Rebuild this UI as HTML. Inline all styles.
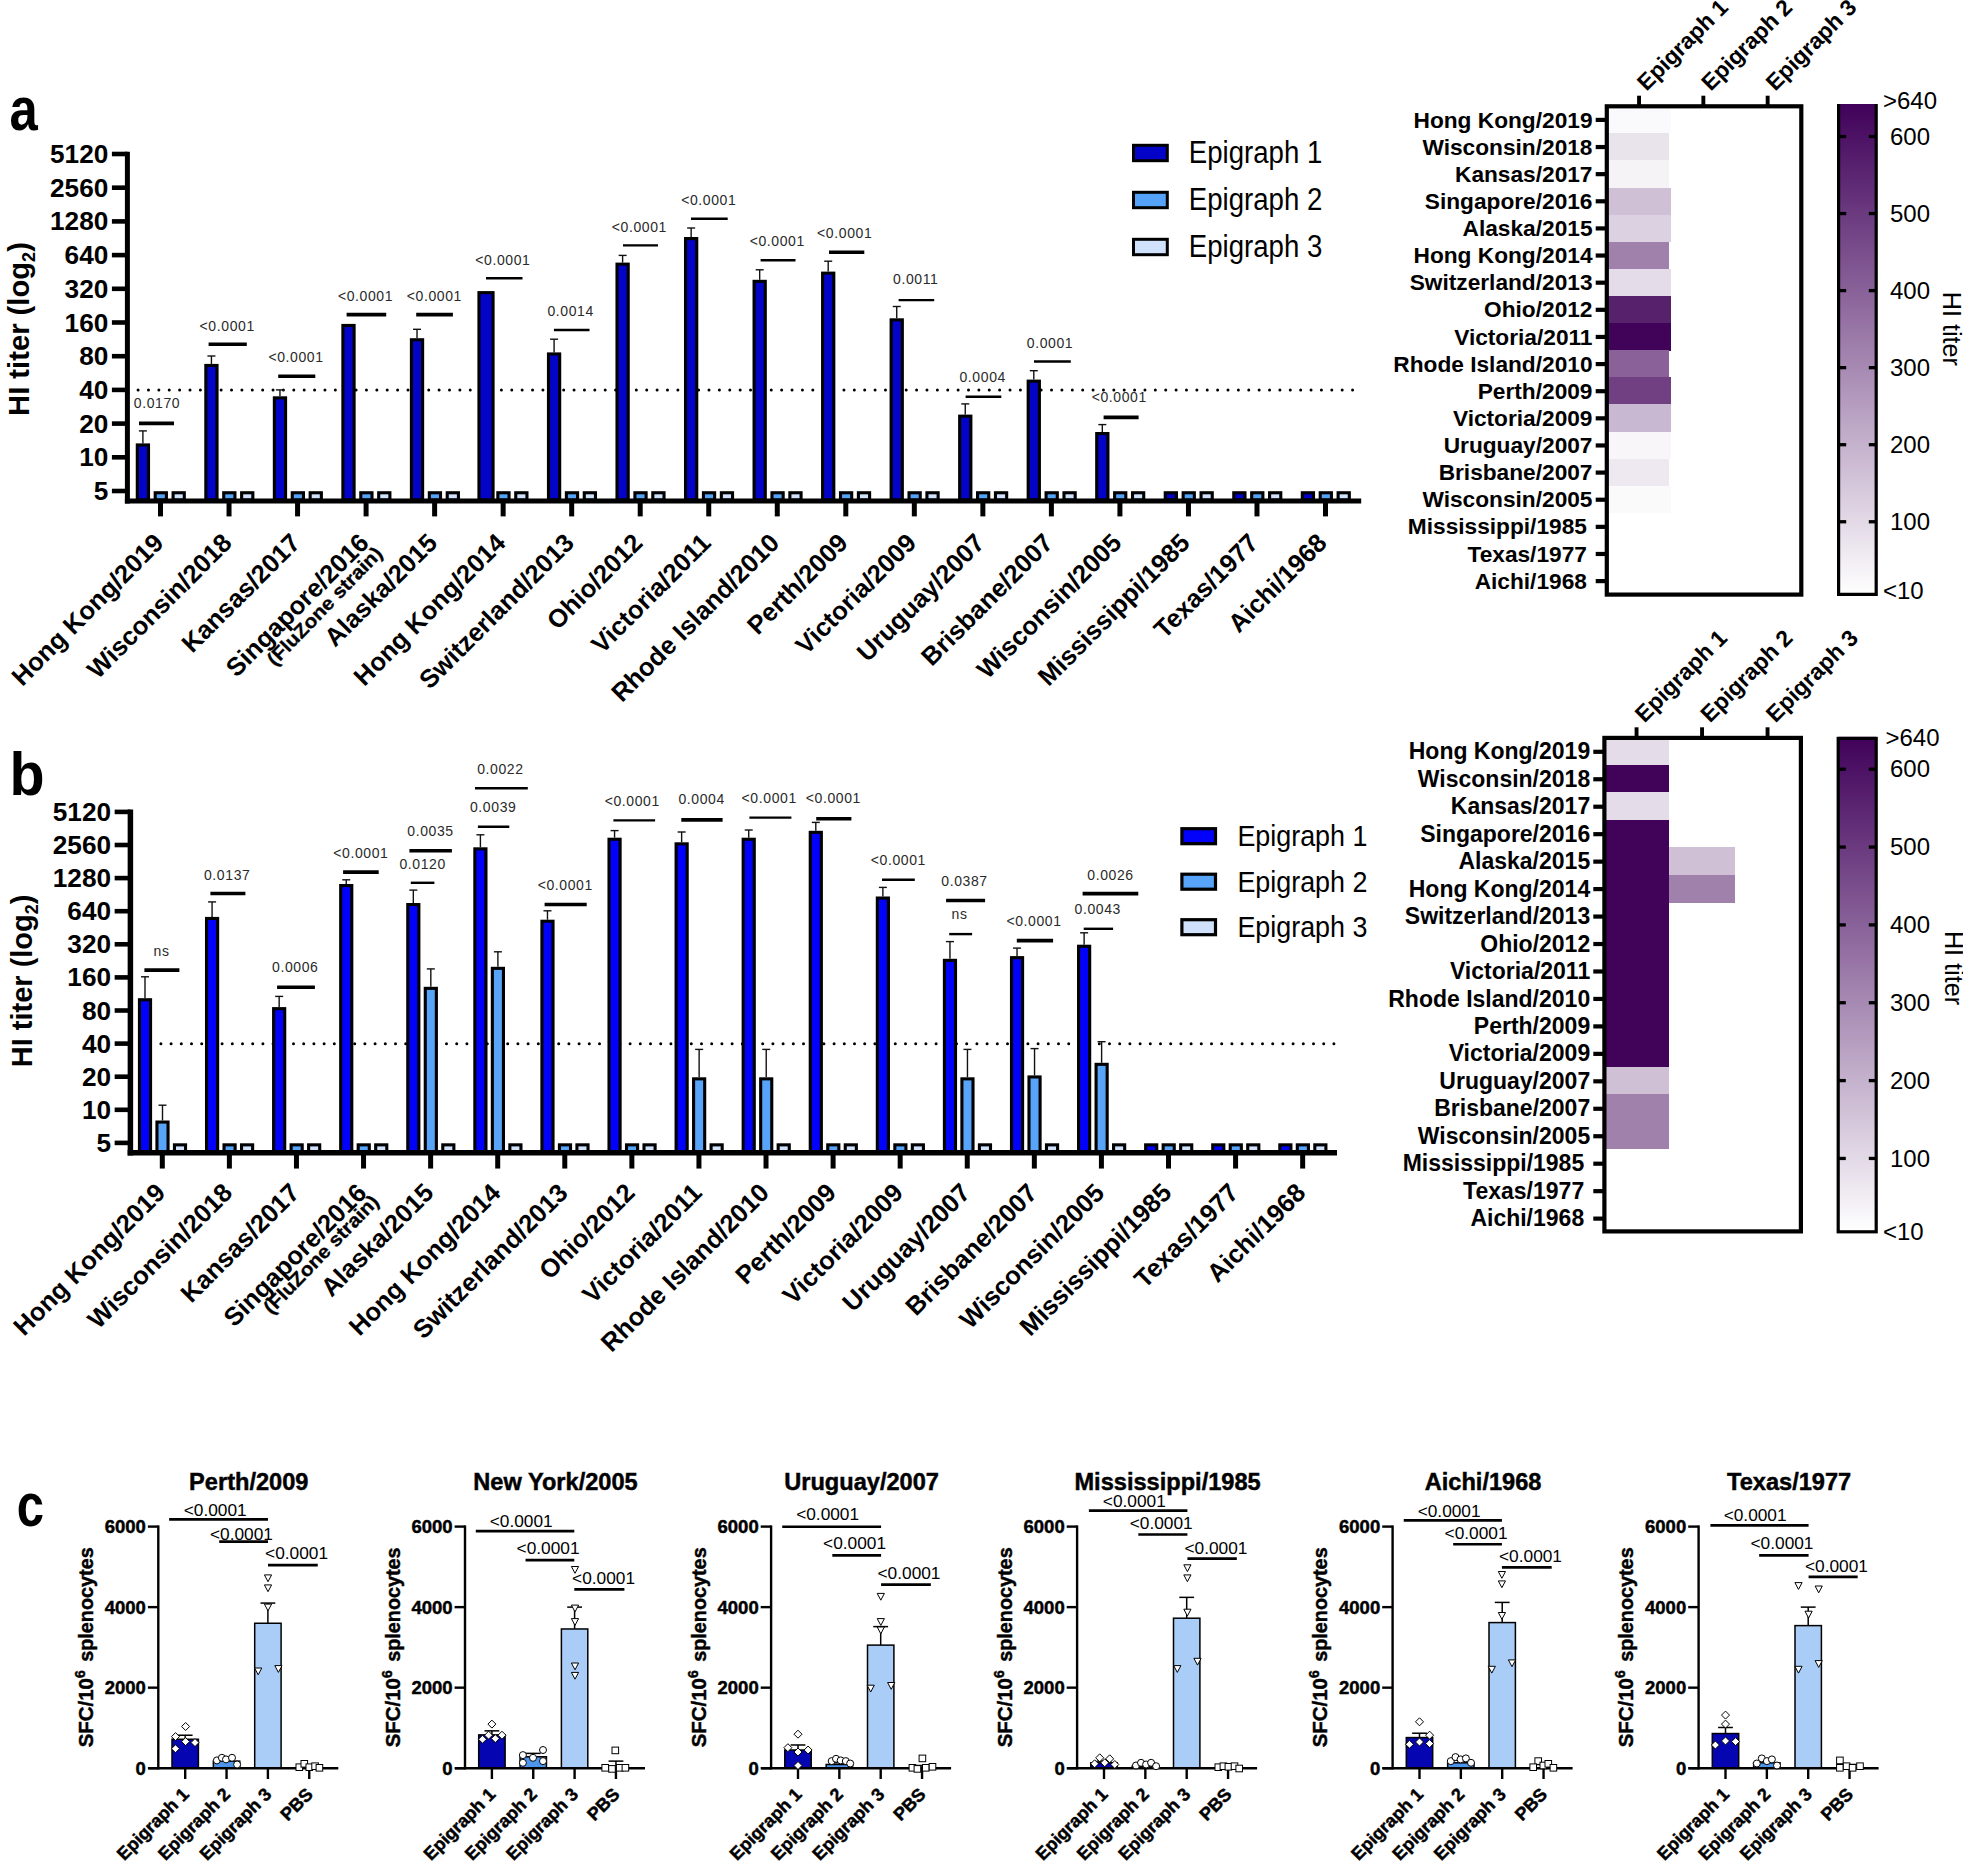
<!DOCTYPE html>
<html lang="en"><head><meta charset="utf-8"><title>Figure</title>
<style>html,body{margin:0;padding:0;background:#fff}svg{display:block}text{white-space:pre}</style>
</head><body>
<svg width="1963" height="1862" viewBox="0 0 1963 1862" font-family='"Liberation Sans", Arial, sans-serif'>
<defs><linearGradient id="pg" x1="0" y1="0" x2="0" y2="1"><stop offset="0" stop-color="#40015a"/><stop offset="1" stop-color="#ffffff"/></linearGradient></defs>
<rect width="1963" height="1862" fill="#fff"/>
<g id="panel-a">
<line x1="138.10" y1="390.00" x2="1353.50" y2="390.00" stroke="#000" stroke-width="3" stroke-linecap="round" stroke-dasharray="0 10.38"/>
<line x1="142.90" y1="443.40" x2="142.90" y2="430.90" stroke="#111" stroke-width="1.4"/>
<line x1="138.90" y1="430.90" x2="146.90" y2="430.90" stroke="#111" stroke-width="1.4"/>
<rect x="137.30" y="444.95" width="11.20" height="55.00" fill="#0404c8" stroke="#000" stroke-width="3.1"/>
<rect x="155.20" y="492.75" width="11.20" height="7.20" fill="#55a3f8" stroke="#000" stroke-width="3.1"/>
<rect x="173.10" y="492.75" width="11.20" height="7.20" fill="#cfe1fb" stroke="#000" stroke-width="3.1"/>
<line x1="211.43" y1="363.90" x2="211.43" y2="356.00" stroke="#111" stroke-width="1.4"/>
<line x1="207.43" y1="356.00" x2="215.43" y2="356.00" stroke="#111" stroke-width="1.4"/>
<rect x="205.83" y="365.45" width="11.20" height="134.50" fill="#0404c8" stroke="#000" stroke-width="3.1"/>
<rect x="223.73" y="492.75" width="11.20" height="7.20" fill="#55a3f8" stroke="#000" stroke-width="3.1"/>
<rect x="241.63" y="492.75" width="11.20" height="7.20" fill="#cfe1fb" stroke="#000" stroke-width="3.1"/>
<line x1="279.96" y1="396.30" x2="279.96" y2="389.90" stroke="#111" stroke-width="1.4"/>
<line x1="275.96" y1="389.90" x2="283.96" y2="389.90" stroke="#111" stroke-width="1.4"/>
<rect x="274.36" y="397.85" width="11.20" height="102.10" fill="#0404c8" stroke="#000" stroke-width="3.1"/>
<rect x="292.26" y="492.75" width="11.20" height="7.20" fill="#55a3f8" stroke="#000" stroke-width="3.1"/>
<rect x="310.16" y="492.75" width="11.20" height="7.20" fill="#cfe1fb" stroke="#000" stroke-width="3.1"/>
<rect x="342.89" y="325.45" width="11.20" height="174.50" fill="#0404c8" stroke="#000" stroke-width="3.1"/>
<rect x="360.79" y="492.75" width="11.20" height="7.20" fill="#55a3f8" stroke="#000" stroke-width="3.1"/>
<rect x="378.69" y="492.75" width="11.20" height="7.20" fill="#cfe1fb" stroke="#000" stroke-width="3.1"/>
<line x1="417.02" y1="338.20" x2="417.02" y2="329.30" stroke="#111" stroke-width="1.4"/>
<line x1="413.02" y1="329.30" x2="421.02" y2="329.30" stroke="#111" stroke-width="1.4"/>
<rect x="411.42" y="339.75" width="11.20" height="160.20" fill="#0404c8" stroke="#000" stroke-width="3.1"/>
<rect x="429.32" y="492.75" width="11.20" height="7.20" fill="#55a3f8" stroke="#000" stroke-width="3.1"/>
<rect x="447.22" y="492.75" width="11.20" height="7.20" fill="#cfe1fb" stroke="#000" stroke-width="3.1"/>
<rect x="478.95" y="292.65" width="14.10" height="207.30" fill="#0404c8" stroke="#000" stroke-width="3.1"/>
<rect x="497.85" y="492.75" width="11.20" height="7.20" fill="#55a3f8" stroke="#000" stroke-width="3.1"/>
<rect x="515.75" y="492.75" width="11.20" height="7.20" fill="#cfe1fb" stroke="#000" stroke-width="3.1"/>
<line x1="554.08" y1="352.40" x2="554.08" y2="339.20" stroke="#111" stroke-width="1.4"/>
<line x1="550.08" y1="339.20" x2="558.08" y2="339.20" stroke="#111" stroke-width="1.4"/>
<rect x="548.48" y="353.95" width="11.20" height="146.00" fill="#0404c8" stroke="#000" stroke-width="3.1"/>
<rect x="566.38" y="492.75" width="11.20" height="7.20" fill="#55a3f8" stroke="#000" stroke-width="3.1"/>
<rect x="584.28" y="492.75" width="11.20" height="7.20" fill="#cfe1fb" stroke="#000" stroke-width="3.1"/>
<line x1="622.61" y1="262.60" x2="622.61" y2="255.40" stroke="#111" stroke-width="1.4"/>
<line x1="618.61" y1="255.40" x2="626.61" y2="255.40" stroke="#111" stroke-width="1.4"/>
<rect x="617.01" y="264.15" width="11.20" height="235.80" fill="#0404c8" stroke="#000" stroke-width="3.1"/>
<rect x="634.91" y="492.75" width="11.20" height="7.20" fill="#55a3f8" stroke="#000" stroke-width="3.1"/>
<rect x="652.81" y="492.75" width="11.20" height="7.20" fill="#cfe1fb" stroke="#000" stroke-width="3.1"/>
<line x1="691.14" y1="237.00" x2="691.14" y2="228.00" stroke="#111" stroke-width="1.4"/>
<line x1="687.14" y1="228.00" x2="695.14" y2="228.00" stroke="#111" stroke-width="1.4"/>
<rect x="685.54" y="238.55" width="11.20" height="261.40" fill="#0404c8" stroke="#000" stroke-width="3.1"/>
<rect x="703.44" y="492.75" width="11.20" height="7.20" fill="#55a3f8" stroke="#000" stroke-width="3.1"/>
<rect x="721.34" y="492.75" width="11.20" height="7.20" fill="#cfe1fb" stroke="#000" stroke-width="3.1"/>
<line x1="759.67" y1="279.80" x2="759.67" y2="269.80" stroke="#111" stroke-width="1.4"/>
<line x1="755.67" y1="269.80" x2="763.67" y2="269.80" stroke="#111" stroke-width="1.4"/>
<rect x="754.07" y="281.35" width="11.20" height="218.60" fill="#0404c8" stroke="#000" stroke-width="3.1"/>
<rect x="771.97" y="492.75" width="11.20" height="7.20" fill="#55a3f8" stroke="#000" stroke-width="3.1"/>
<rect x="789.87" y="492.75" width="11.20" height="7.20" fill="#cfe1fb" stroke="#000" stroke-width="3.1"/>
<line x1="828.20" y1="271.60" x2="828.20" y2="261.20" stroke="#111" stroke-width="1.4"/>
<line x1="824.20" y1="261.20" x2="832.20" y2="261.20" stroke="#111" stroke-width="1.4"/>
<rect x="822.60" y="273.15" width="11.20" height="226.80" fill="#0404c8" stroke="#000" stroke-width="3.1"/>
<rect x="840.50" y="492.75" width="11.20" height="7.20" fill="#55a3f8" stroke="#000" stroke-width="3.1"/>
<rect x="858.40" y="492.75" width="11.20" height="7.20" fill="#cfe1fb" stroke="#000" stroke-width="3.1"/>
<line x1="896.73" y1="318.30" x2="896.73" y2="306.50" stroke="#111" stroke-width="1.4"/>
<line x1="892.73" y1="306.50" x2="900.73" y2="306.50" stroke="#111" stroke-width="1.4"/>
<rect x="891.13" y="319.85" width="11.20" height="180.10" fill="#0404c8" stroke="#000" stroke-width="3.1"/>
<rect x="909.03" y="492.75" width="11.20" height="7.20" fill="#55a3f8" stroke="#000" stroke-width="3.1"/>
<rect x="926.93" y="492.75" width="11.20" height="7.20" fill="#cfe1fb" stroke="#000" stroke-width="3.1"/>
<line x1="965.26" y1="414.60" x2="965.26" y2="403.90" stroke="#111" stroke-width="1.4"/>
<line x1="961.26" y1="403.90" x2="969.26" y2="403.90" stroke="#111" stroke-width="1.4"/>
<rect x="959.66" y="416.15" width="11.20" height="83.80" fill="#0404c8" stroke="#000" stroke-width="3.1"/>
<rect x="977.56" y="492.75" width="11.20" height="7.20" fill="#55a3f8" stroke="#000" stroke-width="3.1"/>
<rect x="995.46" y="492.75" width="11.20" height="7.20" fill="#cfe1fb" stroke="#000" stroke-width="3.1"/>
<line x1="1033.79" y1="379.60" x2="1033.79" y2="370.70" stroke="#111" stroke-width="1.4"/>
<line x1="1029.79" y1="370.70" x2="1037.79" y2="370.70" stroke="#111" stroke-width="1.4"/>
<rect x="1028.19" y="381.15" width="11.20" height="118.80" fill="#0404c8" stroke="#000" stroke-width="3.1"/>
<rect x="1046.09" y="492.75" width="11.20" height="7.20" fill="#55a3f8" stroke="#000" stroke-width="3.1"/>
<rect x="1063.99" y="492.75" width="11.20" height="7.20" fill="#cfe1fb" stroke="#000" stroke-width="3.1"/>
<line x1="1102.32" y1="432.00" x2="1102.32" y2="424.60" stroke="#111" stroke-width="1.4"/>
<line x1="1098.32" y1="424.60" x2="1106.32" y2="424.60" stroke="#111" stroke-width="1.4"/>
<rect x="1096.72" y="433.55" width="11.20" height="66.40" fill="#0404c8" stroke="#000" stroke-width="3.1"/>
<rect x="1114.62" y="492.75" width="11.20" height="7.20" fill="#55a3f8" stroke="#000" stroke-width="3.1"/>
<rect x="1132.52" y="492.75" width="11.20" height="7.20" fill="#cfe1fb" stroke="#000" stroke-width="3.1"/>
<rect x="1165.25" y="492.75" width="11.20" height="7.20" fill="#0404c8" stroke="#000" stroke-width="3.1"/>
<rect x="1183.15" y="492.75" width="11.20" height="7.20" fill="#55a3f8" stroke="#000" stroke-width="3.1"/>
<rect x="1201.05" y="492.75" width="11.20" height="7.20" fill="#cfe1fb" stroke="#000" stroke-width="3.1"/>
<rect x="1233.78" y="492.75" width="11.20" height="7.20" fill="#0404c8" stroke="#000" stroke-width="3.1"/>
<rect x="1251.68" y="492.75" width="11.20" height="7.20" fill="#55a3f8" stroke="#000" stroke-width="3.1"/>
<rect x="1269.58" y="492.75" width="11.20" height="7.20" fill="#cfe1fb" stroke="#000" stroke-width="3.1"/>
<rect x="1302.31" y="492.75" width="11.20" height="7.20" fill="#0404c8" stroke="#000" stroke-width="3.1"/>
<rect x="1320.21" y="492.75" width="11.20" height="7.20" fill="#55a3f8" stroke="#000" stroke-width="3.1"/>
<rect x="1338.11" y="492.75" width="11.20" height="7.20" fill="#cfe1fb" stroke="#000" stroke-width="3.1"/>
<line x1="127.40" y1="151.70" x2="127.40" y2="503.40" stroke="#000" stroke-width="5"/>
<line x1="124.90" y1="500.90" x2="1361.20" y2="500.90" stroke="#000" stroke-width="5"/>
<line x1="111.90" y1="491.00" x2="127.40" y2="491.00" stroke="#000" stroke-width="4.6"/>
<text x="108.30" y="500.00" font-size="26.2" font-weight="bold" text-anchor="end" fill="#000">5</text>
<line x1="111.90" y1="457.30" x2="127.40" y2="457.30" stroke="#000" stroke-width="4.6"/>
<text x="108.30" y="466.30" font-size="26.2" font-weight="bold" text-anchor="end" fill="#000">10</text>
<line x1="111.90" y1="423.60" x2="127.40" y2="423.60" stroke="#000" stroke-width="4.6"/>
<text x="108.30" y="432.60" font-size="26.2" font-weight="bold" text-anchor="end" fill="#000">20</text>
<line x1="111.90" y1="389.90" x2="127.40" y2="389.90" stroke="#000" stroke-width="4.6"/>
<text x="108.30" y="398.90" font-size="26.2" font-weight="bold" text-anchor="end" fill="#000">40</text>
<line x1="111.90" y1="356.20" x2="127.40" y2="356.20" stroke="#000" stroke-width="4.6"/>
<text x="108.30" y="365.20" font-size="26.2" font-weight="bold" text-anchor="end" fill="#000">80</text>
<line x1="111.90" y1="322.50" x2="127.40" y2="322.50" stroke="#000" stroke-width="4.6"/>
<text x="108.30" y="331.50" font-size="26.2" font-weight="bold" text-anchor="end" fill="#000">160</text>
<line x1="111.90" y1="288.80" x2="127.40" y2="288.80" stroke="#000" stroke-width="4.6"/>
<text x="108.30" y="297.80" font-size="26.2" font-weight="bold" text-anchor="end" fill="#000">320</text>
<line x1="111.90" y1="255.10" x2="127.40" y2="255.10" stroke="#000" stroke-width="4.6"/>
<text x="108.30" y="264.10" font-size="26.2" font-weight="bold" text-anchor="end" fill="#000">640</text>
<line x1="111.90" y1="221.40" x2="127.40" y2="221.40" stroke="#000" stroke-width="4.6"/>
<text x="108.30" y="230.40" font-size="26.2" font-weight="bold" text-anchor="end" fill="#000">1280</text>
<line x1="111.90" y1="187.70" x2="127.40" y2="187.70" stroke="#000" stroke-width="4.6"/>
<text x="108.30" y="196.70" font-size="26.2" font-weight="bold" text-anchor="end" fill="#000">2560</text>
<line x1="111.90" y1="154.00" x2="127.40" y2="154.00" stroke="#000" stroke-width="4.6"/>
<text x="108.30" y="163.00" font-size="26.2" font-weight="bold" text-anchor="end" fill="#000">5120</text>
<line x1="160.50" y1="500.90" x2="160.50" y2="516.40" stroke="#000" stroke-width="5"/>
<text x="165.00" y="544.40" font-size="25.6" font-weight="bold" text-anchor="end" fill="#000" transform="rotate(-45 165.00 544.40)">Hong Kong/2019</text>
<line x1="229.03" y1="500.90" x2="229.03" y2="516.40" stroke="#000" stroke-width="5"/>
<text x="233.43" y="544.40" font-size="25.6" font-weight="bold" text-anchor="end" fill="#000" transform="rotate(-45 233.43 544.40)">Wisconsin/2018</text>
<line x1="297.56" y1="500.90" x2="297.56" y2="516.40" stroke="#000" stroke-width="5"/>
<text x="301.86" y="544.40" font-size="25.6" font-weight="bold" text-anchor="end" fill="#000" transform="rotate(-45 301.86 544.40)">Kansas/2017</text>
<line x1="366.09" y1="500.90" x2="366.09" y2="516.40" stroke="#000" stroke-width="5"/>
<text x="370.29" y="544.40" font-size="25.6" font-weight="bold" text-anchor="end" fill="#000" transform="rotate(-45 370.29 544.40)">Singapore/2016</text>
<line x1="434.62" y1="500.90" x2="434.62" y2="516.40" stroke="#000" stroke-width="5"/>
<text x="438.72" y="544.40" font-size="25.6" font-weight="bold" text-anchor="end" fill="#000" transform="rotate(-45 438.72 544.40)">Alaska/2015</text>
<line x1="503.15" y1="500.90" x2="503.15" y2="516.40" stroke="#000" stroke-width="5"/>
<text x="507.15" y="544.40" font-size="25.6" font-weight="bold" text-anchor="end" fill="#000" transform="rotate(-45 507.15 544.40)">Hong Kong/2014</text>
<line x1="571.68" y1="500.90" x2="571.68" y2="516.40" stroke="#000" stroke-width="5"/>
<text x="575.58" y="544.40" font-size="25.6" font-weight="bold" text-anchor="end" fill="#000" transform="rotate(-45 575.58 544.40)">Switzerland/2013</text>
<line x1="640.21" y1="500.90" x2="640.21" y2="516.40" stroke="#000" stroke-width="5"/>
<text x="644.01" y="544.40" font-size="25.6" font-weight="bold" text-anchor="end" fill="#000" transform="rotate(-45 644.01 544.40)">Ohio/2012</text>
<line x1="708.74" y1="500.90" x2="708.74" y2="516.40" stroke="#000" stroke-width="5"/>
<text x="712.44" y="544.40" font-size="25.6" font-weight="bold" text-anchor="end" fill="#000" transform="rotate(-45 712.44 544.40)">Victoria/2011</text>
<line x1="777.27" y1="500.90" x2="777.27" y2="516.40" stroke="#000" stroke-width="5"/>
<text x="780.87" y="544.40" font-size="25.6" font-weight="bold" text-anchor="end" fill="#000" transform="rotate(-45 780.87 544.40)">Rhode Island/2010</text>
<line x1="845.80" y1="500.90" x2="845.80" y2="516.40" stroke="#000" stroke-width="5"/>
<text x="849.30" y="544.40" font-size="25.6" font-weight="bold" text-anchor="end" fill="#000" transform="rotate(-45 849.30 544.40)">Perth/2009</text>
<line x1="914.33" y1="500.90" x2="914.33" y2="516.40" stroke="#000" stroke-width="5"/>
<text x="917.73" y="544.40" font-size="25.6" font-weight="bold" text-anchor="end" fill="#000" transform="rotate(-45 917.73 544.40)">Victoria/2009</text>
<line x1="982.86" y1="500.90" x2="982.86" y2="516.40" stroke="#000" stroke-width="5"/>
<text x="986.16" y="544.40" font-size="25.6" font-weight="bold" text-anchor="end" fill="#000" transform="rotate(-45 986.16 544.40)">Uruguay/2007</text>
<line x1="1051.39" y1="500.90" x2="1051.39" y2="516.40" stroke="#000" stroke-width="5"/>
<text x="1054.59" y="544.40" font-size="25.6" font-weight="bold" text-anchor="end" fill="#000" transform="rotate(-45 1054.59 544.40)">Brisbane/2007</text>
<line x1="1119.92" y1="500.90" x2="1119.92" y2="516.40" stroke="#000" stroke-width="5"/>
<text x="1123.02" y="544.40" font-size="25.6" font-weight="bold" text-anchor="end" fill="#000" transform="rotate(-45 1123.02 544.40)">Wisconsin/2005</text>
<line x1="1188.45" y1="500.90" x2="1188.45" y2="516.40" stroke="#000" stroke-width="5"/>
<text x="1191.45" y="544.40" font-size="25.6" font-weight="bold" text-anchor="end" fill="#000" transform="rotate(-45 1191.45 544.40)">Mississippi/1985</text>
<line x1="1256.98" y1="500.90" x2="1256.98" y2="516.40" stroke="#000" stroke-width="5"/>
<text x="1259.88" y="544.40" font-size="25.6" font-weight="bold" text-anchor="end" fill="#000" transform="rotate(-45 1259.88 544.40)">Texas/1977</text>
<line x1="1325.51" y1="500.90" x2="1325.51" y2="516.40" stroke="#000" stroke-width="5"/>
<text x="1328.31" y="544.40" font-size="25.6" font-weight="bold" text-anchor="end" fill="#000" transform="rotate(-45 1328.31 544.40)">Aichi/1968</text>
<text transform="translate(383.60 554.60) rotate(-46) scale(1 0.93)" font-size="20.7" font-weight="bold" text-anchor="end" stroke="#000" stroke-width="0.35">(FluZone strain)</text>
<text x="28.80" y="329.00" font-size="29.2" font-weight="bold" text-anchor="middle" transform="rotate(-90 28.80 329.00)">HI titer (log<tspan font-size="18.1" dy="6.4">2</tspan><tspan dy="-6.4">)</tspan></text>
<line x1="139.00" y1="423.40" x2="174.00" y2="423.40" stroke="#000" stroke-width="3.6"/>
<text x="157.00" y="408.00" font-size="14" text-anchor="middle" fill="#2a2a2a" letter-spacing="0.6">0.0170</text>
<line x1="208.60" y1="344.20" x2="246.80" y2="344.20" stroke="#000" stroke-width="3.6"/>
<text x="227.20" y="330.70" font-size="14" text-anchor="middle" fill="#2a2a2a" letter-spacing="0.6">&lt;0.0001</text>
<line x1="278.20" y1="376.30" x2="315.30" y2="376.30" stroke="#000" stroke-width="3.6"/>
<text x="296.00" y="361.70" font-size="14" text-anchor="middle" fill="#2a2a2a" letter-spacing="0.6">&lt;0.0001</text>
<line x1="346.60" y1="314.60" x2="386.20" y2="314.60" stroke="#000" stroke-width="3.6"/>
<text x="365.50" y="300.70" font-size="14" text-anchor="middle" fill="#2a2a2a" letter-spacing="0.6">&lt;0.0001</text>
<line x1="416.20" y1="314.60" x2="452.90" y2="314.60" stroke="#000" stroke-width="3.6"/>
<text x="434.40" y="300.70" font-size="14" text-anchor="middle" fill="#2a2a2a" letter-spacing="0.6">&lt;0.0001</text>
<line x1="486.00" y1="278.30" x2="522.50" y2="278.30" stroke="#000" stroke-width="2.4"/>
<text x="502.90" y="264.70" font-size="14" text-anchor="middle" fill="#2a2a2a" letter-spacing="0.6">&lt;0.0001</text>
<line x1="553.90" y1="330.00" x2="589.50" y2="330.00" stroke="#000" stroke-width="2.4"/>
<text x="570.60" y="316.40" font-size="14" text-anchor="middle" fill="#2a2a2a" letter-spacing="0.6">0.0014</text>
<line x1="623.00" y1="245.40" x2="658.00" y2="245.40" stroke="#000" stroke-width="2.4"/>
<text x="639.40" y="231.50" font-size="14" text-anchor="middle" fill="#2a2a2a" letter-spacing="0.6">&lt;0.0001</text>
<line x1="691.00" y1="218.80" x2="727.70" y2="218.80" stroke="#000" stroke-width="2.4"/>
<text x="708.80" y="204.50" font-size="14" text-anchor="middle" fill="#2a2a2a" letter-spacing="0.6">&lt;0.0001</text>
<line x1="760.60" y1="260.20" x2="795.50" y2="260.20" stroke="#000" stroke-width="2.4"/>
<text x="777.30" y="246.30" font-size="14" text-anchor="middle" fill="#2a2a2a" letter-spacing="0.6">&lt;0.0001</text>
<line x1="829.00" y1="252.30" x2="864.30" y2="252.30" stroke="#000" stroke-width="3.6"/>
<text x="844.70" y="238.40" font-size="14" text-anchor="middle" fill="#2a2a2a" letter-spacing="0.6">&lt;0.0001</text>
<line x1="898.60" y1="300.10" x2="934.20" y2="300.10" stroke="#000" stroke-width="2.4"/>
<text x="915.70" y="284.10" font-size="14" text-anchor="middle" fill="#2a2a2a" letter-spacing="0.6">0.0011</text>
<line x1="965.60" y1="396.80" x2="1001.30" y2="396.80" stroke="#000" stroke-width="2.4"/>
<text x="982.70" y="382.10" font-size="14" text-anchor="middle" fill="#2a2a2a" letter-spacing="0.6">0.0004</text>
<line x1="1034.00" y1="361.50" x2="1070.80" y2="361.50" stroke="#000" stroke-width="2.4"/>
<text x="1050.00" y="347.60" font-size="14" text-anchor="middle" fill="#2a2a2a" letter-spacing="0.6">0.0001</text>
<line x1="1103.60" y1="417.40" x2="1138.60" y2="417.40" stroke="#000" stroke-width="3.6"/>
<text x="1119.30" y="401.80" font-size="14" text-anchor="middle" fill="#2a2a2a" letter-spacing="0.6">&lt;0.0001</text>
<rect x="1133.50" y="145.30" width="33.80" height="15.40" fill="#0404c8" stroke="#000" stroke-width="3.0"/>
<text transform="translate(1188.80 162.60) scale(1 1.11)" font-size="27.6">Epigraph 1</text>
<rect x="1133.50" y="192.30" width="33.80" height="15.40" fill="#55a3f8" stroke="#000" stroke-width="3.0"/>
<text transform="translate(1188.80 209.60) scale(1 1.11)" font-size="27.6">Epigraph 2</text>
<rect x="1133.50" y="239.30" width="33.80" height="15.40" fill="#cfe1fb" stroke="#000" stroke-width="3.0"/>
<text transform="translate(1188.80 256.60) scale(1 1.11)" font-size="27.6">Epigraph 3</text>
<text transform="translate(9.6 129.6) scale(0.84 1)" font-size="60.5" font-weight="bold">a</text>
</g>
<g id="heat-a">
<rect x="1606.90" y="106.20" width="64.30" height="27.61" fill="#faf9fb" shape-rendering="crispEdges"/>
<rect x="1606.90" y="133.31" width="62.10" height="27.61" fill="#e9e3ec" shape-rendering="crispEdges"/>
<rect x="1606.90" y="160.42" width="62.10" height="27.61" fill="#f5f3f6" shape-rendering="crispEdges"/>
<rect x="1606.90" y="187.53" width="64.30" height="27.61" fill="#cfc0d6" shape-rendering="crispEdges"/>
<rect x="1606.90" y="214.64" width="64.30" height="27.61" fill="#dcd1e1" shape-rendering="crispEdges"/>
<rect x="1606.90" y="241.75" width="62.10" height="27.61" fill="#a081ac" shape-rendering="crispEdges"/>
<rect x="1606.90" y="268.86" width="64.30" height="27.61" fill="#e5dce9" shape-rendering="crispEdges"/>
<rect x="1606.90" y="295.97" width="64.30" height="27.61" fill="#57216c" shape-rendering="crispEdges"/>
<rect x="1606.90" y="323.08" width="64.30" height="27.61" fill="#41025a" shape-rendering="crispEdges"/>
<rect x="1606.90" y="350.19" width="62.10" height="27.61" fill="#8a6299" shape-rendering="crispEdges"/>
<rect x="1606.90" y="377.30" width="64.30" height="27.61" fill="#714083" shape-rendering="crispEdges"/>
<rect x="1606.90" y="404.41" width="64.30" height="27.61" fill="#c9b8d2" shape-rendering="crispEdges"/>
<rect x="1606.90" y="431.52" width="64.30" height="27.61" fill="#f8f6f9" shape-rendering="crispEdges"/>
<rect x="1606.90" y="458.63" width="62.10" height="27.61" fill="#eee9f0" shape-rendering="crispEdges"/>
<rect x="1606.90" y="485.74" width="64.30" height="27.61" fill="#fbfafb" shape-rendering="crispEdges"/>
<rect x="1606.80" y="106.30" width="194.50" height="488.30" fill="none" stroke="#000" stroke-width="4.2"/>
<line x1="1595.70" y1="119.90" x2="1606.80" y2="119.90" stroke="#000" stroke-width="4.2"/>
<text x="1592.50" y="127.50" font-size="22.7" font-weight="bold" text-anchor="end" fill="#000">Hong Kong/2019</text>
<line x1="1595.70" y1="147.03" x2="1606.80" y2="147.03" stroke="#000" stroke-width="4.2"/>
<text x="1592.50" y="154.63" font-size="22.7" font-weight="bold" text-anchor="end" fill="#000">Wisconsin/2018</text>
<line x1="1595.70" y1="174.16" x2="1606.80" y2="174.16" stroke="#000" stroke-width="4.2"/>
<text x="1592.50" y="181.76" font-size="22.7" font-weight="bold" text-anchor="end" fill="#000">Kansas/2017</text>
<line x1="1595.70" y1="201.29" x2="1606.80" y2="201.29" stroke="#000" stroke-width="4.2"/>
<text x="1592.50" y="208.89" font-size="22.7" font-weight="bold" text-anchor="end" fill="#000">Singapore/2016</text>
<line x1="1595.70" y1="228.42" x2="1606.80" y2="228.42" stroke="#000" stroke-width="4.2"/>
<text x="1592.50" y="236.02" font-size="22.7" font-weight="bold" text-anchor="end" fill="#000">Alaska/2015</text>
<line x1="1595.70" y1="255.55" x2="1606.80" y2="255.55" stroke="#000" stroke-width="4.2"/>
<text x="1592.50" y="263.15" font-size="22.7" font-weight="bold" text-anchor="end" fill="#000">Hong Kong/2014</text>
<line x1="1595.70" y1="282.68" x2="1606.80" y2="282.68" stroke="#000" stroke-width="4.2"/>
<text x="1592.50" y="290.28" font-size="22.7" font-weight="bold" text-anchor="end" fill="#000">Switzerland/2013</text>
<line x1="1595.70" y1="309.81" x2="1606.80" y2="309.81" stroke="#000" stroke-width="4.2"/>
<text x="1592.50" y="317.41" font-size="22.7" font-weight="bold" text-anchor="end" fill="#000">Ohio/2012</text>
<line x1="1595.70" y1="336.94" x2="1606.80" y2="336.94" stroke="#000" stroke-width="4.2"/>
<text x="1592.50" y="344.54" font-size="22.7" font-weight="bold" text-anchor="end" fill="#000">Victoria/2011</text>
<line x1="1595.70" y1="364.07" x2="1606.80" y2="364.07" stroke="#000" stroke-width="4.2"/>
<text x="1592.50" y="371.67" font-size="22.7" font-weight="bold" text-anchor="end" fill="#000">Rhode Island/2010</text>
<line x1="1595.70" y1="391.20" x2="1606.80" y2="391.20" stroke="#000" stroke-width="4.2"/>
<text x="1592.50" y="398.80" font-size="22.7" font-weight="bold" text-anchor="end" fill="#000">Perth/2009</text>
<line x1="1595.70" y1="418.33" x2="1606.80" y2="418.33" stroke="#000" stroke-width="4.2"/>
<text x="1592.50" y="425.93" font-size="22.7" font-weight="bold" text-anchor="end" fill="#000">Victoria/2009</text>
<line x1="1595.70" y1="445.46" x2="1606.80" y2="445.46" stroke="#000" stroke-width="4.2"/>
<text x="1592.50" y="453.06" font-size="22.7" font-weight="bold" text-anchor="end" fill="#000">Uruguay/2007</text>
<line x1="1595.70" y1="472.59" x2="1606.80" y2="472.59" stroke="#000" stroke-width="4.2"/>
<text x="1592.50" y="480.19" font-size="22.7" font-weight="bold" text-anchor="end" fill="#000">Brisbane/2007</text>
<line x1="1595.70" y1="499.72" x2="1606.80" y2="499.72" stroke="#000" stroke-width="4.2"/>
<text x="1592.50" y="507.32" font-size="22.7" font-weight="bold" text-anchor="end" fill="#000">Wisconsin/2005</text>
<line x1="1595.70" y1="526.85" x2="1606.80" y2="526.85" stroke="#000" stroke-width="4.2"/>
<text x="1586.90" y="534.45" font-size="22.7" font-weight="bold" text-anchor="end" fill="#000">Mississippi/1985</text>
<line x1="1595.70" y1="553.98" x2="1606.80" y2="553.98" stroke="#000" stroke-width="4.2"/>
<text x="1586.90" y="561.58" font-size="22.7" font-weight="bold" text-anchor="end" fill="#000">Texas/1977</text>
<line x1="1595.70" y1="581.11" x2="1606.80" y2="581.11" stroke="#000" stroke-width="4.2"/>
<text x="1586.90" y="588.71" font-size="22.7" font-weight="bold" text-anchor="end" fill="#000">Aichi/1968</text>
<line x1="1639.05" y1="95.70" x2="1639.05" y2="106.30" stroke="#000" stroke-width="3.9"/>
<text x="1646.55" y="91.80" font-size="22.7" font-weight="bold" text-anchor="start" fill="#000" transform="rotate(-45 1646.55 91.80)">Epigraph 1</text>
<line x1="1703.35" y1="95.70" x2="1703.35" y2="106.30" stroke="#000" stroke-width="3.9"/>
<text x="1710.85" y="91.80" font-size="22.7" font-weight="bold" text-anchor="start" fill="#000" transform="rotate(-45 1710.85 91.80)">Epigraph 2</text>
<line x1="1767.65" y1="95.70" x2="1767.65" y2="106.30" stroke="#000" stroke-width="3.9"/>
<text x="1775.15" y="91.80" font-size="22.7" font-weight="bold" text-anchor="start" fill="#000" transform="rotate(-45 1775.15 91.80)">Epigraph 3</text>
<rect x="1838.60" y="104.00" width="37.60" height="490.40" fill="url(#pg)"/>
<path d="M1838.60 104.00V594.40H1876.20V104.00" fill="none" stroke="#000" stroke-width="3.2"/>
<line x1="1838.60" y1="136.50" x2="1846.20" y2="136.50" stroke="#000" stroke-width="3.3"/>
<line x1="1868.80" y1="136.50" x2="1876.20" y2="136.50" stroke="#000" stroke-width="3.3"/>
<text x="1890.00" y="144.70" font-size="24" text-anchor="start" fill="#000">600</text>
<line x1="1838.60" y1="213.55" x2="1846.20" y2="213.55" stroke="#000" stroke-width="3.3"/>
<line x1="1868.80" y1="213.55" x2="1876.20" y2="213.55" stroke="#000" stroke-width="3.3"/>
<text x="1890.00" y="221.75" font-size="24" text-anchor="start" fill="#000">500</text>
<line x1="1838.60" y1="290.60" x2="1846.20" y2="290.60" stroke="#000" stroke-width="3.3"/>
<line x1="1868.80" y1="290.60" x2="1876.20" y2="290.60" stroke="#000" stroke-width="3.3"/>
<text x="1890.00" y="298.80" font-size="24" text-anchor="start" fill="#000">400</text>
<line x1="1838.60" y1="367.65" x2="1846.20" y2="367.65" stroke="#000" stroke-width="3.3"/>
<line x1="1868.80" y1="367.65" x2="1876.20" y2="367.65" stroke="#000" stroke-width="3.3"/>
<text x="1890.00" y="375.85" font-size="24" text-anchor="start" fill="#000">300</text>
<line x1="1838.60" y1="444.70" x2="1846.20" y2="444.70" stroke="#000" stroke-width="3.3"/>
<line x1="1868.80" y1="444.70" x2="1876.20" y2="444.70" stroke="#000" stroke-width="3.3"/>
<text x="1890.00" y="452.90" font-size="24" text-anchor="start" fill="#000">200</text>
<line x1="1838.60" y1="521.75" x2="1846.20" y2="521.75" stroke="#000" stroke-width="3.3"/>
<line x1="1868.80" y1="521.75" x2="1876.20" y2="521.75" stroke="#000" stroke-width="3.3"/>
<text x="1890.00" y="529.95" font-size="24" text-anchor="start" fill="#000">100</text>
<text x="1883.00" y="109.20" font-size="24" text-anchor="start" fill="#000">&gt;640</text>
<text x="1883.00" y="599.20" font-size="24" text-anchor="start" fill="#000">&lt;10</text>
<text x="1943.00" y="328.80" font-size="25.2" text-anchor="middle" fill="#000" transform="rotate(90 1943.00 328.80)">HI titer</text>
</g>
<g id="panel-b">
<line x1="160.90" y1="1043.70" x2="1334.50" y2="1043.70" stroke="#000" stroke-width="3" stroke-linecap="round" stroke-dasharray="0 10.2"/>
<line x1="145.00" y1="998.20" x2="145.00" y2="976.80" stroke="#111" stroke-width="1.4"/>
<line x1="141.00" y1="976.80" x2="149.00" y2="976.80" stroke="#111" stroke-width="1.4"/>
<rect x="139.45" y="999.75" width="11.10" height="151.85" fill="#0202fa" stroke="#000" stroke-width="3.1"/>
<line x1="162.50" y1="1120.50" x2="162.50" y2="1105.20" stroke="#111" stroke-width="1.4"/>
<line x1="158.50" y1="1105.20" x2="166.50" y2="1105.20" stroke="#111" stroke-width="1.4"/>
<rect x="156.95" y="1122.05" width="11.10" height="29.55" fill="#58a4f9" stroke="#000" stroke-width="3.1"/>
<rect x="174.45" y="1144.85" width="11.10" height="6.75" fill="#cfe1fb" stroke="#000" stroke-width="3.1"/>
<line x1="212.08" y1="916.90" x2="212.08" y2="901.90" stroke="#111" stroke-width="1.4"/>
<line x1="208.08" y1="901.90" x2="216.08" y2="901.90" stroke="#111" stroke-width="1.4"/>
<rect x="206.53" y="918.45" width="11.10" height="233.15" fill="#0202fa" stroke="#000" stroke-width="3.1"/>
<rect x="224.03" y="1144.85" width="11.10" height="6.75" fill="#58a4f9" stroke="#000" stroke-width="3.1"/>
<rect x="241.53" y="1144.85" width="11.10" height="6.75" fill="#cfe1fb" stroke="#000" stroke-width="3.1"/>
<line x1="279.16" y1="1007.10" x2="279.16" y2="996.40" stroke="#111" stroke-width="1.4"/>
<line x1="275.16" y1="996.40" x2="283.16" y2="996.40" stroke="#111" stroke-width="1.4"/>
<rect x="273.61" y="1008.65" width="11.10" height="142.95" fill="#0202fa" stroke="#000" stroke-width="3.1"/>
<rect x="291.11" y="1144.85" width="11.10" height="6.75" fill="#58a4f9" stroke="#000" stroke-width="3.1"/>
<rect x="308.61" y="1144.85" width="11.10" height="6.75" fill="#cfe1fb" stroke="#000" stroke-width="3.1"/>
<line x1="346.24" y1="884.00" x2="346.24" y2="879.80" stroke="#111" stroke-width="1.4"/>
<line x1="342.24" y1="879.80" x2="350.24" y2="879.80" stroke="#111" stroke-width="1.4"/>
<rect x="340.69" y="885.55" width="11.10" height="266.05" fill="#0202fa" stroke="#000" stroke-width="3.1"/>
<rect x="358.19" y="1144.85" width="11.10" height="6.75" fill="#58a4f9" stroke="#000" stroke-width="3.1"/>
<rect x="375.69" y="1144.85" width="11.10" height="6.75" fill="#cfe1fb" stroke="#000" stroke-width="3.1"/>
<line x1="413.32" y1="903.00" x2="413.32" y2="890.10" stroke="#111" stroke-width="1.4"/>
<line x1="409.32" y1="890.10" x2="417.32" y2="890.10" stroke="#111" stroke-width="1.4"/>
<rect x="407.77" y="904.55" width="11.10" height="247.05" fill="#0202fa" stroke="#000" stroke-width="3.1"/>
<line x1="430.82" y1="986.80" x2="430.82" y2="968.90" stroke="#111" stroke-width="1.4"/>
<line x1="426.82" y1="968.90" x2="434.82" y2="968.90" stroke="#111" stroke-width="1.4"/>
<rect x="425.27" y="988.35" width="11.10" height="163.25" fill="#58a4f9" stroke="#000" stroke-width="3.1"/>
<rect x="442.77" y="1144.85" width="11.10" height="6.75" fill="#cfe1fb" stroke="#000" stroke-width="3.1"/>
<line x1="480.40" y1="847.30" x2="480.40" y2="834.80" stroke="#111" stroke-width="1.4"/>
<line x1="476.40" y1="834.80" x2="484.40" y2="834.80" stroke="#111" stroke-width="1.4"/>
<rect x="474.85" y="848.85" width="11.10" height="302.75" fill="#0202fa" stroke="#000" stroke-width="3.1"/>
<line x1="497.90" y1="966.80" x2="497.90" y2="951.80" stroke="#111" stroke-width="1.4"/>
<line x1="493.90" y1="951.80" x2="501.90" y2="951.80" stroke="#111" stroke-width="1.4"/>
<rect x="492.35" y="968.35" width="11.10" height="183.25" fill="#58a4f9" stroke="#000" stroke-width="3.1"/>
<rect x="509.85" y="1144.85" width="11.10" height="6.75" fill="#cfe1fb" stroke="#000" stroke-width="3.1"/>
<line x1="547.48" y1="919.70" x2="547.48" y2="910.80" stroke="#111" stroke-width="1.4"/>
<line x1="543.48" y1="910.80" x2="551.48" y2="910.80" stroke="#111" stroke-width="1.4"/>
<rect x="541.93" y="921.25" width="11.10" height="230.35" fill="#0202fa" stroke="#000" stroke-width="3.1"/>
<rect x="559.43" y="1144.85" width="11.10" height="6.75" fill="#58a4f9" stroke="#000" stroke-width="3.1"/>
<rect x="576.93" y="1144.85" width="11.10" height="6.75" fill="#cfe1fb" stroke="#000" stroke-width="3.1"/>
<line x1="614.56" y1="837.70" x2="614.56" y2="830.60" stroke="#111" stroke-width="1.4"/>
<line x1="610.56" y1="830.60" x2="618.56" y2="830.60" stroke="#111" stroke-width="1.4"/>
<rect x="609.01" y="839.25" width="11.10" height="312.35" fill="#0202fa" stroke="#000" stroke-width="3.1"/>
<rect x="626.51" y="1144.85" width="11.10" height="6.75" fill="#58a4f9" stroke="#000" stroke-width="3.1"/>
<rect x="644.01" y="1144.85" width="11.10" height="6.75" fill="#cfe1fb" stroke="#000" stroke-width="3.1"/>
<line x1="681.64" y1="842.30" x2="681.64" y2="832.00" stroke="#111" stroke-width="1.4"/>
<line x1="677.64" y1="832.00" x2="685.64" y2="832.00" stroke="#111" stroke-width="1.4"/>
<rect x="676.09" y="843.85" width="11.10" height="307.75" fill="#0202fa" stroke="#000" stroke-width="3.1"/>
<line x1="699.14" y1="1077.30" x2="699.14" y2="1049.40" stroke="#111" stroke-width="1.4"/>
<line x1="695.14" y1="1049.40" x2="703.14" y2="1049.40" stroke="#111" stroke-width="1.4"/>
<rect x="693.59" y="1078.85" width="11.10" height="72.75" fill="#58a4f9" stroke="#000" stroke-width="3.1"/>
<rect x="711.09" y="1144.85" width="11.10" height="6.75" fill="#cfe1fb" stroke="#000" stroke-width="3.1"/>
<line x1="748.72" y1="837.70" x2="748.72" y2="830.00" stroke="#111" stroke-width="1.4"/>
<line x1="744.72" y1="830.00" x2="752.72" y2="830.00" stroke="#111" stroke-width="1.4"/>
<rect x="743.17" y="839.25" width="11.10" height="312.35" fill="#0202fa" stroke="#000" stroke-width="3.1"/>
<line x1="766.22" y1="1077.30" x2="766.22" y2="1049.40" stroke="#111" stroke-width="1.4"/>
<line x1="762.22" y1="1049.40" x2="770.22" y2="1049.40" stroke="#111" stroke-width="1.4"/>
<rect x="760.67" y="1078.85" width="11.10" height="72.75" fill="#58a4f9" stroke="#000" stroke-width="3.1"/>
<rect x="778.17" y="1144.85" width="11.10" height="6.75" fill="#cfe1fb" stroke="#000" stroke-width="3.1"/>
<line x1="815.80" y1="830.80" x2="815.80" y2="822.40" stroke="#111" stroke-width="1.4"/>
<line x1="811.80" y1="822.40" x2="819.80" y2="822.40" stroke="#111" stroke-width="1.4"/>
<rect x="810.25" y="832.35" width="11.10" height="319.25" fill="#0202fa" stroke="#000" stroke-width="3.1"/>
<rect x="827.75" y="1144.85" width="11.10" height="6.75" fill="#58a4f9" stroke="#000" stroke-width="3.1"/>
<rect x="845.25" y="1144.85" width="11.10" height="6.75" fill="#cfe1fb" stroke="#000" stroke-width="3.1"/>
<line x1="882.88" y1="896.50" x2="882.88" y2="887.40" stroke="#111" stroke-width="1.4"/>
<line x1="878.88" y1="887.40" x2="886.88" y2="887.40" stroke="#111" stroke-width="1.4"/>
<rect x="877.33" y="898.05" width="11.10" height="253.55" fill="#0202fa" stroke="#000" stroke-width="3.1"/>
<rect x="894.83" y="1144.85" width="11.10" height="6.75" fill="#58a4f9" stroke="#000" stroke-width="3.1"/>
<rect x="912.33" y="1144.85" width="11.10" height="6.75" fill="#cfe1fb" stroke="#000" stroke-width="3.1"/>
<line x1="949.96" y1="958.80" x2="949.96" y2="941.60" stroke="#111" stroke-width="1.4"/>
<line x1="945.96" y1="941.60" x2="953.96" y2="941.60" stroke="#111" stroke-width="1.4"/>
<rect x="944.41" y="960.35" width="11.10" height="191.25" fill="#0202fa" stroke="#000" stroke-width="3.1"/>
<line x1="967.46" y1="1077.30" x2="967.46" y2="1049.40" stroke="#111" stroke-width="1.4"/>
<line x1="963.46" y1="1049.40" x2="971.46" y2="1049.40" stroke="#111" stroke-width="1.4"/>
<rect x="961.91" y="1078.85" width="11.10" height="72.75" fill="#58a4f9" stroke="#000" stroke-width="3.1"/>
<rect x="979.41" y="1144.85" width="11.10" height="6.75" fill="#cfe1fb" stroke="#000" stroke-width="3.1"/>
<line x1="1017.04" y1="956.10" x2="1017.04" y2="948.10" stroke="#111" stroke-width="1.4"/>
<line x1="1013.04" y1="948.10" x2="1021.04" y2="948.10" stroke="#111" stroke-width="1.4"/>
<rect x="1011.49" y="957.65" width="11.10" height="193.95" fill="#0202fa" stroke="#000" stroke-width="3.1"/>
<line x1="1034.54" y1="1075.40" x2="1034.54" y2="1048.60" stroke="#111" stroke-width="1.4"/>
<line x1="1030.54" y1="1048.60" x2="1038.54" y2="1048.60" stroke="#111" stroke-width="1.4"/>
<rect x="1028.99" y="1076.95" width="11.10" height="74.65" fill="#58a4f9" stroke="#000" stroke-width="3.1"/>
<rect x="1046.49" y="1144.85" width="11.10" height="6.75" fill="#cfe1fb" stroke="#000" stroke-width="3.1"/>
<line x1="1084.12" y1="944.70" x2="1084.12" y2="932.80" stroke="#111" stroke-width="1.4"/>
<line x1="1080.12" y1="932.80" x2="1088.12" y2="932.80" stroke="#111" stroke-width="1.4"/>
<rect x="1078.57" y="946.25" width="11.10" height="205.35" fill="#0202fa" stroke="#000" stroke-width="3.1"/>
<line x1="1101.62" y1="1062.80" x2="1101.62" y2="1041.70" stroke="#111" stroke-width="1.4"/>
<line x1="1097.62" y1="1041.70" x2="1105.62" y2="1041.70" stroke="#111" stroke-width="1.4"/>
<rect x="1096.07" y="1064.35" width="11.10" height="87.25" fill="#58a4f9" stroke="#000" stroke-width="3.1"/>
<rect x="1113.57" y="1144.85" width="11.10" height="6.75" fill="#cfe1fb" stroke="#000" stroke-width="3.1"/>
<rect x="1145.65" y="1144.85" width="11.10" height="6.75" fill="#0202fa" stroke="#000" stroke-width="3.1"/>
<rect x="1163.15" y="1144.85" width="11.10" height="6.75" fill="#58a4f9" stroke="#000" stroke-width="3.1"/>
<rect x="1180.65" y="1144.85" width="11.10" height="6.75" fill="#cfe1fb" stroke="#000" stroke-width="3.1"/>
<rect x="1212.73" y="1144.85" width="11.10" height="6.75" fill="#0202fa" stroke="#000" stroke-width="3.1"/>
<rect x="1230.23" y="1144.85" width="11.10" height="6.75" fill="#58a4f9" stroke="#000" stroke-width="3.1"/>
<rect x="1247.73" y="1144.85" width="11.10" height="6.75" fill="#cfe1fb" stroke="#000" stroke-width="3.1"/>
<rect x="1279.81" y="1144.85" width="11.10" height="6.75" fill="#0202fa" stroke="#000" stroke-width="3.1"/>
<rect x="1297.31" y="1144.85" width="11.10" height="6.75" fill="#58a4f9" stroke="#000" stroke-width="3.1"/>
<rect x="1314.81" y="1144.85" width="11.10" height="6.75" fill="#cfe1fb" stroke="#000" stroke-width="3.1"/>
<line x1="130.40" y1="809.60" x2="130.40" y2="1155.55" stroke="#000" stroke-width="5.5"/>
<line x1="127.65" y1="1152.80" x2="1337.00" y2="1152.80" stroke="#000" stroke-width="5.5"/>
<line x1="114.65" y1="1142.90" x2="130.40" y2="1142.90" stroke="#000" stroke-width="4.6"/>
<text x="111.05" y="1151.90" font-size="26.2" font-weight="bold" text-anchor="end" fill="#000">5</text>
<line x1="114.65" y1="1109.80" x2="130.40" y2="1109.80" stroke="#000" stroke-width="4.6"/>
<text x="111.05" y="1118.80" font-size="26.2" font-weight="bold" text-anchor="end" fill="#000">10</text>
<line x1="114.65" y1="1076.70" x2="130.40" y2="1076.70" stroke="#000" stroke-width="4.6"/>
<text x="111.05" y="1085.70" font-size="26.2" font-weight="bold" text-anchor="end" fill="#000">20</text>
<line x1="114.65" y1="1043.60" x2="130.40" y2="1043.60" stroke="#000" stroke-width="4.6"/>
<text x="111.05" y="1052.60" font-size="26.2" font-weight="bold" text-anchor="end" fill="#000">40</text>
<line x1="114.65" y1="1010.50" x2="130.40" y2="1010.50" stroke="#000" stroke-width="4.6"/>
<text x="111.05" y="1019.50" font-size="26.2" font-weight="bold" text-anchor="end" fill="#000">80</text>
<line x1="114.65" y1="977.40" x2="130.40" y2="977.40" stroke="#000" stroke-width="4.6"/>
<text x="111.05" y="986.40" font-size="26.2" font-weight="bold" text-anchor="end" fill="#000">160</text>
<line x1="114.65" y1="944.30" x2="130.40" y2="944.30" stroke="#000" stroke-width="4.6"/>
<text x="111.05" y="953.30" font-size="26.2" font-weight="bold" text-anchor="end" fill="#000">320</text>
<line x1="114.65" y1="911.20" x2="130.40" y2="911.20" stroke="#000" stroke-width="4.6"/>
<text x="111.05" y="920.20" font-size="26.2" font-weight="bold" text-anchor="end" fill="#000">640</text>
<line x1="114.65" y1="878.10" x2="130.40" y2="878.10" stroke="#000" stroke-width="4.6"/>
<text x="111.05" y="887.10" font-size="26.2" font-weight="bold" text-anchor="end" fill="#000">1280</text>
<line x1="114.65" y1="845.00" x2="130.40" y2="845.00" stroke="#000" stroke-width="4.6"/>
<text x="111.05" y="854.00" font-size="26.2" font-weight="bold" text-anchor="end" fill="#000">2560</text>
<line x1="114.65" y1="811.90" x2="130.40" y2="811.90" stroke="#000" stroke-width="4.6"/>
<text x="111.05" y="820.90" font-size="26.2" font-weight="bold" text-anchor="end" fill="#000">5120</text>
<line x1="162.30" y1="1152.80" x2="162.30" y2="1168.55" stroke="#000" stroke-width="5"/>
<text x="166.80" y="1194.30" font-size="25.6" font-weight="bold" text-anchor="end" fill="#000" transform="rotate(-45 166.80 1194.30)">Hong Kong/2019</text>
<line x1="229.38" y1="1152.80" x2="229.38" y2="1168.55" stroke="#000" stroke-width="5"/>
<text x="233.88" y="1194.30" font-size="25.6" font-weight="bold" text-anchor="end" fill="#000" transform="rotate(-45 233.88 1194.30)">Wisconsin/2018</text>
<line x1="296.46" y1="1152.80" x2="296.46" y2="1168.55" stroke="#000" stroke-width="5"/>
<text x="300.96" y="1194.30" font-size="25.6" font-weight="bold" text-anchor="end" fill="#000" transform="rotate(-45 300.96 1194.30)">Kansas/2017</text>
<line x1="363.54" y1="1152.80" x2="363.54" y2="1168.55" stroke="#000" stroke-width="5"/>
<text x="368.04" y="1194.30" font-size="25.6" font-weight="bold" text-anchor="end" fill="#000" transform="rotate(-45 368.04 1194.30)">Singapore/2016</text>
<line x1="430.62" y1="1152.80" x2="430.62" y2="1168.55" stroke="#000" stroke-width="5"/>
<text x="435.12" y="1194.30" font-size="25.6" font-weight="bold" text-anchor="end" fill="#000" transform="rotate(-45 435.12 1194.30)">Alaska/2015</text>
<line x1="497.70" y1="1152.80" x2="497.70" y2="1168.55" stroke="#000" stroke-width="5"/>
<text x="502.20" y="1194.30" font-size="25.6" font-weight="bold" text-anchor="end" fill="#000" transform="rotate(-45 502.20 1194.30)">Hong Kong/2014</text>
<line x1="564.78" y1="1152.80" x2="564.78" y2="1168.55" stroke="#000" stroke-width="5"/>
<text x="569.28" y="1194.30" font-size="25.6" font-weight="bold" text-anchor="end" fill="#000" transform="rotate(-45 569.28 1194.30)">Switzerland/2013</text>
<line x1="631.86" y1="1152.80" x2="631.86" y2="1168.55" stroke="#000" stroke-width="5"/>
<text x="636.36" y="1194.30" font-size="25.6" font-weight="bold" text-anchor="end" fill="#000" transform="rotate(-45 636.36 1194.30)">Ohio/2012</text>
<line x1="698.94" y1="1152.80" x2="698.94" y2="1168.55" stroke="#000" stroke-width="5"/>
<text x="703.44" y="1194.30" font-size="25.6" font-weight="bold" text-anchor="end" fill="#000" transform="rotate(-45 703.44 1194.30)">Victoria/2011</text>
<line x1="766.02" y1="1152.80" x2="766.02" y2="1168.55" stroke="#000" stroke-width="5"/>
<text x="770.52" y="1194.30" font-size="25.6" font-weight="bold" text-anchor="end" fill="#000" transform="rotate(-45 770.52 1194.30)">Rhode Island/2010</text>
<line x1="833.10" y1="1152.80" x2="833.10" y2="1168.55" stroke="#000" stroke-width="5"/>
<text x="837.60" y="1194.30" font-size="25.6" font-weight="bold" text-anchor="end" fill="#000" transform="rotate(-45 837.60 1194.30)">Perth/2009</text>
<line x1="900.18" y1="1152.80" x2="900.18" y2="1168.55" stroke="#000" stroke-width="5"/>
<text x="904.68" y="1194.30" font-size="25.6" font-weight="bold" text-anchor="end" fill="#000" transform="rotate(-45 904.68 1194.30)">Victoria/2009</text>
<line x1="967.26" y1="1152.80" x2="967.26" y2="1168.55" stroke="#000" stroke-width="5"/>
<text x="971.76" y="1194.30" font-size="25.6" font-weight="bold" text-anchor="end" fill="#000" transform="rotate(-45 971.76 1194.30)">Uruguay/2007</text>
<line x1="1034.34" y1="1152.80" x2="1034.34" y2="1168.55" stroke="#000" stroke-width="5"/>
<text x="1038.84" y="1194.30" font-size="25.6" font-weight="bold" text-anchor="end" fill="#000" transform="rotate(-45 1038.84 1194.30)">Brisbane/2007</text>
<line x1="1101.42" y1="1152.80" x2="1101.42" y2="1168.55" stroke="#000" stroke-width="5"/>
<text x="1105.92" y="1194.30" font-size="25.6" font-weight="bold" text-anchor="end" fill="#000" transform="rotate(-45 1105.92 1194.30)">Wisconsin/2005</text>
<line x1="1168.50" y1="1152.80" x2="1168.50" y2="1168.55" stroke="#000" stroke-width="5"/>
<text x="1173.00" y="1194.30" font-size="25.6" font-weight="bold" text-anchor="end" fill="#000" transform="rotate(-45 1173.00 1194.30)">Mississippi/1985</text>
<line x1="1235.58" y1="1152.80" x2="1235.58" y2="1168.55" stroke="#000" stroke-width="5"/>
<text x="1240.08" y="1194.30" font-size="25.6" font-weight="bold" text-anchor="end" fill="#000" transform="rotate(-45 1240.08 1194.30)">Texas/1977</text>
<line x1="1302.66" y1="1152.80" x2="1302.66" y2="1168.55" stroke="#000" stroke-width="5"/>
<text x="1307.16" y="1194.30" font-size="25.6" font-weight="bold" text-anchor="end" fill="#000" transform="rotate(-45 1307.16 1194.30)">Aichi/1968</text>
<text transform="translate(380.00 1202.80) rotate(-46) scale(1 0.93)" font-size="20.7" font-weight="bold" text-anchor="end" stroke="#000" stroke-width="0.35">(FluZone strain)</text>
<text x="32.00" y="980.90" font-size="29.0" font-weight="bold" text-anchor="middle" transform="rotate(-90 32.00 980.90)">HI titer (log<tspan font-size="18.0" dy="6.4">2</tspan><tspan dy="-6.4">)</tspan></text>
<line x1="144.40" y1="970.10" x2="179.40" y2="970.10" stroke="#000" stroke-width="3.6"/>
<text x="161.60" y="955.50" font-size="14" text-anchor="middle" fill="#2a2a2a" letter-spacing="0.6">ns</text>
<line x1="210.40" y1="893.50" x2="245.40" y2="893.50" stroke="#000" stroke-width="3.6"/>
<text x="227.20" y="880.00" font-size="14" text-anchor="middle" fill="#2a2a2a" letter-spacing="0.6">0.0137</text>
<line x1="277.10" y1="987.30" x2="314.90" y2="987.30" stroke="#000" stroke-width="3.6"/>
<text x="295.30" y="972.00" font-size="14" text-anchor="middle" fill="#2a2a2a" letter-spacing="0.6">0.0006</text>
<line x1="343.10" y1="872.10" x2="378.70" y2="872.10" stroke="#000" stroke-width="3.6"/>
<text x="360.90" y="857.60" font-size="14" text-anchor="middle" fill="#2a2a2a" letter-spacing="0.6">&lt;0.0001</text>
<line x1="409.40" y1="850.70" x2="451.90" y2="850.70" stroke="#000" stroke-width="3.6"/>
<text x="430.50" y="836.20" font-size="14" text-anchor="middle" fill="#2a2a2a" letter-spacing="0.6">0.0035</text>
<line x1="410.80" y1="882.80" x2="434.40" y2="882.80" stroke="#000" stroke-width="2.4"/>
<text x="422.60" y="868.60" font-size="14" text-anchor="middle" fill="#2a2a2a" letter-spacing="0.6">0.0120</text>
<line x1="475.00" y1="788.30" x2="527.80" y2="788.30" stroke="#000" stroke-width="2.4"/>
<text x="500.40" y="774.10" font-size="14" text-anchor="middle" fill="#2a2a2a" letter-spacing="0.6">0.0022</text>
<line x1="477.90" y1="826.80" x2="509.30" y2="826.80" stroke="#000" stroke-width="2.4"/>
<text x="493.20" y="812.30" font-size="14" text-anchor="middle" fill="#2a2a2a" letter-spacing="0.6">0.0039</text>
<line x1="544.60" y1="904.50" x2="586.70" y2="904.50" stroke="#000" stroke-width="3.6"/>
<text x="565.30" y="890.00" font-size="14" text-anchor="middle" fill="#2a2a2a" letter-spacing="0.6">&lt;0.0001</text>
<line x1="613.40" y1="820.40" x2="655.10" y2="820.40" stroke="#000" stroke-width="2.4"/>
<text x="632.30" y="806.20" font-size="14" text-anchor="middle" fill="#2a2a2a" letter-spacing="0.6">&lt;0.0001</text>
<line x1="681.30" y1="819.90" x2="722.60" y2="819.90" stroke="#000" stroke-width="3.6"/>
<text x="701.60" y="804.40" font-size="14" text-anchor="middle" fill="#2a2a2a" letter-spacing="0.6">0.0004</text>
<line x1="749.40" y1="817.60" x2="791.40" y2="817.60" stroke="#000" stroke-width="2.4"/>
<text x="769.20" y="802.50" font-size="14" text-anchor="middle" fill="#2a2a2a" letter-spacing="0.6">&lt;0.0001</text>
<line x1="816.20" y1="818.70" x2="851.40" y2="818.70" stroke="#000" stroke-width="3.6"/>
<text x="833.40" y="803.20" font-size="14" text-anchor="middle" fill="#2a2a2a" letter-spacing="0.6">&lt;0.0001</text>
<line x1="882.00" y1="879.80" x2="914.80" y2="879.80" stroke="#000" stroke-width="2.4"/>
<text x="898.40" y="865.10" font-size="14" text-anchor="middle" fill="#2a2a2a" letter-spacing="0.6">&lt;0.0001</text>
<line x1="946.10" y1="900.50" x2="985.10" y2="900.50" stroke="#000" stroke-width="3.6"/>
<text x="964.50" y="886.20" font-size="14" text-anchor="middle" fill="#2a2a2a" letter-spacing="0.6">0.0387</text>
<line x1="949.20" y1="934.10" x2="972.10" y2="934.10" stroke="#000" stroke-width="2.4"/>
<text x="959.50" y="919.30" font-size="14" text-anchor="middle" fill="#2a2a2a" letter-spacing="0.6">ns</text>
<line x1="1016.80" y1="940.60" x2="1053.10" y2="940.60" stroke="#000" stroke-width="3.6"/>
<text x="1034.00" y="925.50" font-size="14" text-anchor="middle" fill="#2a2a2a" letter-spacing="0.6">&lt;0.0001</text>
<line x1="1082.60" y1="893.60" x2="1138.30" y2="893.60" stroke="#000" stroke-width="3.6"/>
<text x="1110.50" y="879.70" font-size="14" text-anchor="middle" fill="#2a2a2a" letter-spacing="0.6">0.0026</text>
<line x1="1083.70" y1="928.80" x2="1113.10" y2="928.80" stroke="#000" stroke-width="2.4"/>
<text x="1097.80" y="913.70" font-size="14" text-anchor="middle" fill="#2a2a2a" letter-spacing="0.6">0.0043</text>
<rect x="1181.90" y="828.70" width="33.60" height="15.00" fill="#0202fa" stroke="#000" stroke-width="3.2"/>
<text transform="translate(1237.40 846.00) scale(1 1.08)" font-size="26.9">Epigraph 1</text>
<rect x="1181.90" y="874.20" width="33.60" height="15.00" fill="#58a4f9" stroke="#000" stroke-width="3.2"/>
<text transform="translate(1237.40 891.50) scale(1 1.08)" font-size="26.9">Epigraph 2</text>
<rect x="1181.90" y="919.70" width="33.60" height="15.00" fill="#cfe1fb" stroke="#000" stroke-width="3.2"/>
<text transform="translate(1237.40 937.00) scale(1 1.08)" font-size="26.9">Epigraph 3</text>
<text transform="translate(9.6 795.2) scale(0.95 1)" font-size="60.5" font-weight="bold">b</text>
</g>
<g id="heat-b">
<rect x="1603.80" y="737.60" width="65.50" height="27.92" fill="#e5dce9" shape-rendering="crispEdges"/>
<rect x="1603.80" y="765.02" width="65.50" height="27.92" fill="#41025a" shape-rendering="crispEdges"/>
<rect x="1603.80" y="792.44" width="65.50" height="27.92" fill="#e5dce9" shape-rendering="crispEdges"/>
<rect x="1603.80" y="819.86" width="65.50" height="27.92" fill="#41025a" shape-rendering="crispEdges"/>
<rect x="1603.80" y="847.28" width="65.50" height="27.92" fill="#41025a" shape-rendering="crispEdges"/>
<rect x="1603.80" y="874.70" width="65.50" height="27.92" fill="#41025a" shape-rendering="crispEdges"/>
<rect x="1603.80" y="902.12" width="65.50" height="27.92" fill="#41025a" shape-rendering="crispEdges"/>
<rect x="1603.80" y="929.54" width="65.50" height="27.92" fill="#41025a" shape-rendering="crispEdges"/>
<rect x="1603.80" y="956.96" width="65.50" height="27.92" fill="#41025a" shape-rendering="crispEdges"/>
<rect x="1603.80" y="984.38" width="65.50" height="27.92" fill="#41025a" shape-rendering="crispEdges"/>
<rect x="1603.80" y="1011.80" width="65.50" height="27.92" fill="#41025a" shape-rendering="crispEdges"/>
<rect x="1603.80" y="1039.22" width="65.50" height="27.92" fill="#41025a" shape-rendering="crispEdges"/>
<rect x="1603.80" y="1066.64" width="65.50" height="27.92" fill="#cfc0d6" shape-rendering="crispEdges"/>
<rect x="1603.80" y="1094.06" width="65.50" height="27.92" fill="#a081ac" shape-rendering="crispEdges"/>
<rect x="1603.80" y="1121.48" width="65.50" height="27.92" fill="#a081ac" shape-rendering="crispEdges"/>
<rect x="1669.30" y="847.28" width="65.50" height="27.92" fill="#cfc0d6" shape-rendering="crispEdges"/>
<rect x="1669.30" y="874.70" width="65.50" height="27.92" fill="#a081ac" shape-rendering="crispEdges"/>
<rect x="1604.40" y="737.90" width="196.50" height="493.50" fill="none" stroke="#000" stroke-width="4.2"/>
<line x1="1593.30" y1="751.80" x2="1604.40" y2="751.80" stroke="#000" stroke-width="4.2"/>
<text x="1590.20" y="759.40" font-size="23.0" font-weight="bold" text-anchor="end" fill="#000">Hong Kong/2019</text>
<line x1="1593.30" y1="779.26" x2="1604.40" y2="779.26" stroke="#000" stroke-width="4.2"/>
<text x="1590.20" y="786.86" font-size="23.0" font-weight="bold" text-anchor="end" fill="#000">Wisconsin/2018</text>
<line x1="1593.30" y1="806.72" x2="1604.40" y2="806.72" stroke="#000" stroke-width="4.2"/>
<text x="1590.20" y="814.32" font-size="23.0" font-weight="bold" text-anchor="end" fill="#000">Kansas/2017</text>
<line x1="1593.30" y1="834.18" x2="1604.40" y2="834.18" stroke="#000" stroke-width="4.2"/>
<text x="1590.20" y="841.78" font-size="23.0" font-weight="bold" text-anchor="end" fill="#000">Singapore/2016</text>
<line x1="1593.30" y1="861.64" x2="1604.40" y2="861.64" stroke="#000" stroke-width="4.2"/>
<text x="1590.20" y="869.24" font-size="23.0" font-weight="bold" text-anchor="end" fill="#000">Alaska/2015</text>
<line x1="1593.30" y1="889.10" x2="1604.40" y2="889.10" stroke="#000" stroke-width="4.2"/>
<text x="1590.20" y="896.70" font-size="23.0" font-weight="bold" text-anchor="end" fill="#000">Hong Kong/2014</text>
<line x1="1593.30" y1="916.56" x2="1604.40" y2="916.56" stroke="#000" stroke-width="4.2"/>
<text x="1590.20" y="924.16" font-size="23.0" font-weight="bold" text-anchor="end" fill="#000">Switzerland/2013</text>
<line x1="1593.30" y1="944.02" x2="1604.40" y2="944.02" stroke="#000" stroke-width="4.2"/>
<text x="1590.20" y="951.62" font-size="23.0" font-weight="bold" text-anchor="end" fill="#000">Ohio/2012</text>
<line x1="1593.30" y1="971.48" x2="1604.40" y2="971.48" stroke="#000" stroke-width="4.2"/>
<text x="1590.20" y="979.08" font-size="23.0" font-weight="bold" text-anchor="end" fill="#000">Victoria/2011</text>
<line x1="1593.30" y1="998.94" x2="1604.40" y2="998.94" stroke="#000" stroke-width="4.2"/>
<text x="1590.20" y="1006.54" font-size="23.0" font-weight="bold" text-anchor="end" fill="#000">Rhode Island/2010</text>
<line x1="1593.30" y1="1026.40" x2="1604.40" y2="1026.40" stroke="#000" stroke-width="4.2"/>
<text x="1590.20" y="1034.00" font-size="23.0" font-weight="bold" text-anchor="end" fill="#000">Perth/2009</text>
<line x1="1593.30" y1="1053.86" x2="1604.40" y2="1053.86" stroke="#000" stroke-width="4.2"/>
<text x="1590.20" y="1061.46" font-size="23.0" font-weight="bold" text-anchor="end" fill="#000">Victoria/2009</text>
<line x1="1593.30" y1="1081.32" x2="1604.40" y2="1081.32" stroke="#000" stroke-width="4.2"/>
<text x="1590.20" y="1088.92" font-size="23.0" font-weight="bold" text-anchor="end" fill="#000">Uruguay/2007</text>
<line x1="1593.30" y1="1108.78" x2="1604.40" y2="1108.78" stroke="#000" stroke-width="4.2"/>
<text x="1590.20" y="1116.38" font-size="23.0" font-weight="bold" text-anchor="end" fill="#000">Brisbane/2007</text>
<line x1="1593.30" y1="1136.24" x2="1604.40" y2="1136.24" stroke="#000" stroke-width="4.2"/>
<text x="1590.20" y="1143.84" font-size="23.0" font-weight="bold" text-anchor="end" fill="#000">Wisconsin/2005</text>
<line x1="1593.30" y1="1163.70" x2="1604.40" y2="1163.70" stroke="#000" stroke-width="4.2"/>
<text x="1584.20" y="1171.30" font-size="23.0" font-weight="bold" text-anchor="end" fill="#000">Mississippi/1985</text>
<line x1="1593.30" y1="1191.16" x2="1604.40" y2="1191.16" stroke="#000" stroke-width="4.2"/>
<text x="1584.20" y="1198.76" font-size="23.0" font-weight="bold" text-anchor="end" fill="#000">Texas/1977</text>
<line x1="1593.30" y1="1218.62" x2="1604.40" y2="1218.62" stroke="#000" stroke-width="4.2"/>
<text x="1584.20" y="1226.22" font-size="23.0" font-weight="bold" text-anchor="end" fill="#000">Aichi/1968</text>
<line x1="1636.55" y1="727.30" x2="1636.55" y2="737.90" stroke="#000" stroke-width="3.9"/>
<text x="1644.55" y="723.40" font-size="23.0" font-weight="bold" text-anchor="start" fill="#000" transform="rotate(-45 1644.55 723.40)">Epigraph 1</text>
<line x1="1702.05" y1="727.30" x2="1702.05" y2="737.90" stroke="#000" stroke-width="3.9"/>
<text x="1710.05" y="723.40" font-size="23.0" font-weight="bold" text-anchor="start" fill="#000" transform="rotate(-45 1710.05 723.40)">Epigraph 2</text>
<line x1="1767.55" y1="727.30" x2="1767.55" y2="737.90" stroke="#000" stroke-width="3.9"/>
<text x="1775.55" y="723.40" font-size="23.0" font-weight="bold" text-anchor="start" fill="#000" transform="rotate(-45 1775.55 723.40)">Epigraph 3</text>
<rect x="1838.20" y="736.80" width="38.00" height="495.00" fill="url(#pg)"/>
<rect x="1838.20" y="738.40" width="38.00" height="493.40" fill="none" stroke="#000" stroke-width="3.2"/>
<line x1="1838.20" y1="769.20" x2="1845.80" y2="769.20" stroke="#000" stroke-width="3.3"/>
<line x1="1868.80" y1="769.20" x2="1876.20" y2="769.20" stroke="#000" stroke-width="3.3"/>
<text x="1890.00" y="777.40" font-size="24" text-anchor="start" fill="#000">600</text>
<line x1="1838.20" y1="847.05" x2="1845.80" y2="847.05" stroke="#000" stroke-width="3.3"/>
<line x1="1868.80" y1="847.05" x2="1876.20" y2="847.05" stroke="#000" stroke-width="3.3"/>
<text x="1890.00" y="855.25" font-size="24" text-anchor="start" fill="#000">500</text>
<line x1="1838.20" y1="924.90" x2="1845.80" y2="924.90" stroke="#000" stroke-width="3.3"/>
<line x1="1868.80" y1="924.90" x2="1876.20" y2="924.90" stroke="#000" stroke-width="3.3"/>
<text x="1890.00" y="933.10" font-size="24" text-anchor="start" fill="#000">400</text>
<line x1="1838.20" y1="1002.75" x2="1845.80" y2="1002.75" stroke="#000" stroke-width="3.3"/>
<line x1="1868.80" y1="1002.75" x2="1876.20" y2="1002.75" stroke="#000" stroke-width="3.3"/>
<text x="1890.00" y="1010.95" font-size="24" text-anchor="start" fill="#000">300</text>
<line x1="1838.20" y1="1080.60" x2="1845.80" y2="1080.60" stroke="#000" stroke-width="3.3"/>
<line x1="1868.80" y1="1080.60" x2="1876.20" y2="1080.60" stroke="#000" stroke-width="3.3"/>
<text x="1890.00" y="1088.80" font-size="24" text-anchor="start" fill="#000">200</text>
<line x1="1838.20" y1="1158.45" x2="1845.80" y2="1158.45" stroke="#000" stroke-width="3.3"/>
<line x1="1868.80" y1="1158.45" x2="1876.20" y2="1158.45" stroke="#000" stroke-width="3.3"/>
<text x="1890.00" y="1166.65" font-size="24" text-anchor="start" fill="#000">100</text>
<text x="1885.50" y="746.40" font-size="24" text-anchor="start" fill="#000">&gt;640</text>
<text x="1883.00" y="1240.20" font-size="24" text-anchor="start" fill="#000">&lt;10</text>
<text x="1944.80" y="968.00" font-size="25.2" text-anchor="middle" fill="#000" transform="rotate(90 1944.80 968.00)">HI titer</text>
</g>
<g id="panel-c">
<text transform="translate(16.7 1526.4) scale(0.81 1)" font-size="60.5" font-weight="bold">c</text>
<line x1="185.20" y1="1739.26" x2="185.20" y2="1735.23" stroke="#000" stroke-width="1.5"/>
<line x1="177.80" y1="1735.23" x2="192.60" y2="1735.23" stroke="#000" stroke-width="1.5"/>
<rect x="172.00" y="1739.26" width="26.40" height="28.94" fill="#0505b2" stroke="#000" stroke-width="1.5"/>
<line x1="226.55" y1="1761.12" x2="226.55" y2="1758.76" stroke="#000" stroke-width="1.5"/>
<line x1="219.15" y1="1758.76" x2="233.95" y2="1758.76" stroke="#000" stroke-width="1.5"/>
<rect x="213.35" y="1761.12" width="26.40" height="7.08" fill="#4d94eb" stroke="#000" stroke-width="1.5"/>
<line x1="267.90" y1="1623.25" x2="267.90" y2="1603.08" stroke="#000" stroke-width="1.5"/>
<line x1="260.50" y1="1603.08" x2="275.30" y2="1603.08" stroke="#000" stroke-width="1.5"/>
<rect x="254.70" y="1623.25" width="26.40" height="144.95" fill="#a9cdf6" stroke="#000" stroke-width="1.5"/>
<line x1="309.25" y1="1767.84" x2="309.25" y2="1765.49" stroke="#000" stroke-width="1.5"/>
<line x1="301.85" y1="1765.49" x2="316.65" y2="1765.49" stroke="#000" stroke-width="1.5"/>
<line x1="158.30" y1="1525.40" x2="158.30" y2="1769.40" stroke="#000" stroke-width="2.4"/>
<line x1="148.30" y1="1768.20" x2="338.30" y2="1768.20" stroke="#000" stroke-width="2.4"/>
<line x1="147.90" y1="1768.20" x2="158.30" y2="1768.20" stroke="#000" stroke-width="2.4"/>
<text x="145.90" y="1774.90" font-size="18.5" font-weight="bold" text-anchor="end" fill="#000" stroke="#000" stroke-width="0.45">0</text>
<line x1="147.90" y1="1687.67" x2="158.30" y2="1687.67" stroke="#000" stroke-width="2.4"/>
<text x="145.90" y="1694.37" font-size="18.5" font-weight="bold" text-anchor="end" fill="#000" stroke="#000" stroke-width="0.45">2000</text>
<line x1="147.90" y1="1607.13" x2="158.30" y2="1607.13" stroke="#000" stroke-width="2.4"/>
<text x="145.90" y="1613.83" font-size="18.5" font-weight="bold" text-anchor="end" fill="#000" stroke="#000" stroke-width="0.45">4000</text>
<line x1="147.90" y1="1526.60" x2="158.30" y2="1526.60" stroke="#000" stroke-width="2.4"/>
<text x="145.90" y="1533.30" font-size="18.5" font-weight="bold" text-anchor="end" fill="#000" stroke="#000" stroke-width="0.45">6000</text>
<line x1="185.20" y1="1768.20" x2="185.20" y2="1779.00" stroke="#000" stroke-width="2.4"/>
<text x="190.00" y="1795.50" font-size="18.0" font-weight="bold" text-anchor="end" fill="#000" transform="rotate(-45 190.00 1795.50)" stroke="#000" stroke-width="0.45">Epigraph 1</text>
<line x1="226.55" y1="1768.20" x2="226.55" y2="1779.00" stroke="#000" stroke-width="2.4"/>
<text x="231.35" y="1795.50" font-size="18.0" font-weight="bold" text-anchor="end" fill="#000" transform="rotate(-45 231.35 1795.50)" stroke="#000" stroke-width="0.45">Epigraph 2</text>
<line x1="267.90" y1="1768.20" x2="267.90" y2="1779.00" stroke="#000" stroke-width="2.4"/>
<text x="272.70" y="1795.50" font-size="18.0" font-weight="bold" text-anchor="end" fill="#000" transform="rotate(-45 272.70 1795.50)" stroke="#000" stroke-width="0.45">Epigraph 3</text>
<line x1="309.25" y1="1768.20" x2="309.25" y2="1779.00" stroke="#000" stroke-width="2.4"/>
<text x="314.05" y="1795.50" font-size="18.0" font-weight="bold" text-anchor="end" fill="#000" transform="rotate(-45 314.05 1795.50)" stroke="#000" stroke-width="0.45">PBS</text>
<text x="248.80" y="1489.60" font-size="23.6" font-weight="bold" text-anchor="middle" fill="#000" stroke="#000" stroke-width="0.45">Perth/2009</text>
<text x="93.00" y="1647.30" font-size="20.4" font-weight="bold" stroke="#000" stroke-width="0.45" text-anchor="middle" transform="rotate(-90 93.00 1647.30)">SFC/10<tspan font-size="14.2" dy="-8.0">6</tspan><tspan dy="8.0" dx="3.0" font-size="19.8"> splenocytes</tspan></text>
<path d="M185.6 1722.5L189.6 1726.5L185.6 1730.5L181.6 1726.5Z" fill="#fff" stroke="#000" stroke-width="1"/>
<path d="M175.5 1732.6L179.5 1736.6L175.5 1740.6L171.5 1736.6Z" fill="#fff" stroke="#000" stroke-width="1"/>
<path d="M185.6 1737.6L189.6 1741.6L185.6 1745.6L181.6 1741.6Z" fill="#fff" stroke="#000" stroke-width="1"/>
<path d="M195.0 1738.6L199.0 1742.6L195.0 1746.6L191.0 1742.6Z" fill="#fff" stroke="#000" stroke-width="1"/>
<path d="M175.5 1744.7L179.5 1748.7L175.5 1752.7L171.5 1748.7Z" fill="#fff" stroke="#000" stroke-width="1"/>
<circle cx="216.9" cy="1760.4" r="3.5" fill="#fff" stroke="#000" stroke-width="1"/>
<circle cx="221.9" cy="1757.8" r="3.5" fill="#fff" stroke="#000" stroke-width="1"/>
<circle cx="226.0" cy="1759.4" r="3.5" fill="#fff" stroke="#000" stroke-width="1"/>
<circle cx="232.0" cy="1757.8" r="3.5" fill="#fff" stroke="#000" stroke-width="1"/>
<circle cx="237.1" cy="1764.5" r="3.5" fill="#fff" stroke="#000" stroke-width="1"/>
<path d="M264.4 1574.9L271.6 1574.9L268.0 1581.7Z" fill="#fff" stroke="#000" stroke-width="1"/>
<path d="M264.4 1584.9L271.6 1584.9L268.0 1591.7Z" fill="#fff" stroke="#000" stroke-width="1"/>
<path d="M264.4 1604.1L271.6 1604.1L268.0 1610.9Z" fill="#fff" stroke="#000" stroke-width="1"/>
<path d="M254.6 1668.0L261.8 1668.0L258.2 1674.8Z" fill="#fff" stroke="#000" stroke-width="1"/>
<path d="M274.8 1665.6L282.0 1665.6L278.4 1672.4Z" fill="#fff" stroke="#000" stroke-width="1"/>
<rect x="296.0" y="1763.9" width="6.6" height="6.6" fill="#fff" stroke="#000" stroke-width="1"/>
<rect x="301.0" y="1760.5" width="6.6" height="6.6" fill="#fff" stroke="#000" stroke-width="1"/>
<rect x="306.0" y="1763.9" width="6.6" height="6.6" fill="#fff" stroke="#000" stroke-width="1"/>
<rect x="311.8" y="1762.9" width="6.6" height="6.6" fill="#fff" stroke="#000" stroke-width="1"/>
<rect x="316.1" y="1764.5" width="6.6" height="6.6" fill="#fff" stroke="#000" stroke-width="1"/>
<line x1="169.13" y1="1519.35" x2="267.99" y2="1519.35" stroke="#000" stroke-width="2.7"/>
<text x="215.20" y="1515.66" font-size="17.3" text-anchor="middle" fill="#000">&lt;0.0001</text>
<line x1="219.23" y1="1541.55" x2="267.99" y2="1541.55" stroke="#000" stroke-width="2.7"/>
<text x="241.43" y="1539.87" font-size="17.3" text-anchor="middle" fill="#000">&lt;0.0001</text>
<line x1="267.99" y1="1565.08" x2="317.75" y2="1565.08" stroke="#000" stroke-width="2.7"/>
<text x="296.57" y="1559.37" font-size="17.3" text-anchor="middle" fill="#000">&lt;0.0001</text>
<line x1="491.90" y1="1734.89" x2="491.90" y2="1730.85" stroke="#000" stroke-width="1.5"/>
<line x1="484.50" y1="1730.85" x2="499.30" y2="1730.85" stroke="#000" stroke-width="1.5"/>
<rect x="478.70" y="1734.89" width="26.40" height="33.31" fill="#0505b2" stroke="#000" stroke-width="1.5"/>
<line x1="533.25" y1="1756.75" x2="533.25" y2="1753.38" stroke="#000" stroke-width="1.5"/>
<line x1="525.85" y1="1753.38" x2="540.65" y2="1753.38" stroke="#000" stroke-width="1.5"/>
<rect x="520.05" y="1756.75" width="26.40" height="11.45" fill="#4d94eb" stroke="#000" stroke-width="1.5"/>
<line x1="574.60" y1="1628.97" x2="574.60" y2="1607.11" stroke="#000" stroke-width="1.5"/>
<line x1="567.20" y1="1607.11" x2="582.00" y2="1607.11" stroke="#000" stroke-width="1.5"/>
<rect x="561.40" y="1628.97" width="26.40" height="139.23" fill="#a9cdf6" stroke="#000" stroke-width="1.5"/>
<line x1="615.95" y1="1767.84" x2="615.95" y2="1761.12" stroke="#000" stroke-width="1.5"/>
<line x1="608.55" y1="1761.12" x2="623.35" y2="1761.12" stroke="#000" stroke-width="1.5"/>
<line x1="465.00" y1="1525.40" x2="465.00" y2="1769.40" stroke="#000" stroke-width="2.4"/>
<line x1="455.00" y1="1768.20" x2="645.00" y2="1768.20" stroke="#000" stroke-width="2.4"/>
<line x1="454.60" y1="1768.20" x2="465.00" y2="1768.20" stroke="#000" stroke-width="2.4"/>
<text x="452.60" y="1774.90" font-size="18.5" font-weight="bold" text-anchor="end" fill="#000" stroke="#000" stroke-width="0.45">0</text>
<line x1="454.60" y1="1687.67" x2="465.00" y2="1687.67" stroke="#000" stroke-width="2.4"/>
<text x="452.60" y="1694.37" font-size="18.5" font-weight="bold" text-anchor="end" fill="#000" stroke="#000" stroke-width="0.45">2000</text>
<line x1="454.60" y1="1607.13" x2="465.00" y2="1607.13" stroke="#000" stroke-width="2.4"/>
<text x="452.60" y="1613.83" font-size="18.5" font-weight="bold" text-anchor="end" fill="#000" stroke="#000" stroke-width="0.45">4000</text>
<line x1="454.60" y1="1526.60" x2="465.00" y2="1526.60" stroke="#000" stroke-width="2.4"/>
<text x="452.60" y="1533.30" font-size="18.5" font-weight="bold" text-anchor="end" fill="#000" stroke="#000" stroke-width="0.45">6000</text>
<line x1="491.90" y1="1768.20" x2="491.90" y2="1779.00" stroke="#000" stroke-width="2.4"/>
<text x="496.70" y="1795.50" font-size="18.0" font-weight="bold" text-anchor="end" fill="#000" transform="rotate(-45 496.70 1795.50)" stroke="#000" stroke-width="0.45">Epigraph 1</text>
<line x1="533.25" y1="1768.20" x2="533.25" y2="1779.00" stroke="#000" stroke-width="2.4"/>
<text x="538.05" y="1795.50" font-size="18.0" font-weight="bold" text-anchor="end" fill="#000" transform="rotate(-45 538.05 1795.50)" stroke="#000" stroke-width="0.45">Epigraph 2</text>
<line x1="574.60" y1="1768.20" x2="574.60" y2="1779.00" stroke="#000" stroke-width="2.4"/>
<text x="579.40" y="1795.50" font-size="18.0" font-weight="bold" text-anchor="end" fill="#000" transform="rotate(-45 579.40 1795.50)" stroke="#000" stroke-width="0.45">Epigraph 3</text>
<line x1="615.95" y1="1768.20" x2="615.95" y2="1779.00" stroke="#000" stroke-width="2.4"/>
<text x="620.75" y="1795.50" font-size="18.0" font-weight="bold" text-anchor="end" fill="#000" transform="rotate(-45 620.75 1795.50)" stroke="#000" stroke-width="0.45">PBS</text>
<text x="555.50" y="1489.60" font-size="23.6" font-weight="bold" text-anchor="middle" fill="#000" stroke="#000" stroke-width="0.45">New York/2005</text>
<text x="399.70" y="1647.30" font-size="20.4" font-weight="bold" stroke="#000" stroke-width="0.45" text-anchor="middle" transform="rotate(-90 399.70 1647.30)">SFC/10<tspan font-size="14.2" dy="-8.0">6</tspan><tspan dy="8.0" dx="3.0" font-size="19.8"> splenocytes</tspan></text>
<path d="M491.9 1720.1L495.9 1724.1L491.9 1728.1L487.9 1724.1Z" fill="#fff" stroke="#000" stroke-width="1"/>
<path d="M482.5 1735.3L486.5 1739.3L482.5 1743.3L478.5 1739.3Z" fill="#fff" stroke="#000" stroke-width="1"/>
<path d="M488.6 1731.2L492.6 1735.2L488.6 1739.2L484.6 1735.2Z" fill="#fff" stroke="#000" stroke-width="1"/>
<path d="M495.3 1734.6L499.3 1738.6L495.3 1742.6L491.3 1738.6Z" fill="#fff" stroke="#000" stroke-width="1"/>
<path d="M502.0 1731.2L506.0 1735.2L502.0 1739.2L498.0 1735.2Z" fill="#fff" stroke="#000" stroke-width="1"/>
<circle cx="522.9" cy="1755.1" r="3.5" fill="#fff" stroke="#000" stroke-width="1"/>
<circle cx="522.9" cy="1762.8" r="3.5" fill="#fff" stroke="#000" stroke-width="1"/>
<circle cx="533.0" cy="1757.8" r="3.5" fill="#fff" stroke="#000" stroke-width="1"/>
<circle cx="543.0" cy="1750.0" r="3.5" fill="#fff" stroke="#000" stroke-width="1"/>
<circle cx="543.0" cy="1761.1" r="3.5" fill="#fff" stroke="#000" stroke-width="1"/>
<path d="M571.4 1566.5L578.6 1566.5L575.0 1573.3Z" fill="#fff" stroke="#000" stroke-width="1"/>
<path d="M571.4 1605.1L578.6 1605.1L575.0 1611.9Z" fill="#fff" stroke="#000" stroke-width="1"/>
<path d="M571.4 1618.6L578.6 1618.6L575.0 1625.4Z" fill="#fff" stroke="#000" stroke-width="1"/>
<path d="M571.4 1663.0L578.6 1663.0L575.0 1669.8Z" fill="#fff" stroke="#000" stroke-width="1"/>
<path d="M571.4 1672.4L578.6 1672.4L575.0 1679.2Z" fill="#fff" stroke="#000" stroke-width="1"/>
<rect x="612.0" y="1747.1" width="6.6" height="6.6" fill="#fff" stroke="#000" stroke-width="1"/>
<rect x="601.9" y="1764.5" width="6.6" height="6.6" fill="#fff" stroke="#000" stroke-width="1"/>
<rect x="608.7" y="1765.6" width="6.6" height="6.6" fill="#fff" stroke="#000" stroke-width="1"/>
<rect x="616.4" y="1764.5" width="6.6" height="6.6" fill="#fff" stroke="#000" stroke-width="1"/>
<rect x="622.1" y="1764.5" width="6.6" height="6.6" fill="#fff" stroke="#000" stroke-width="1"/>
<line x1="475.79" y1="1531.12" x2="574.31" y2="1531.12" stroke="#000" stroke-width="2.7"/>
<text x="521.18" y="1526.75" font-size="17.3" text-anchor="middle" fill="#000">&lt;0.0001</text>
<line x1="525.55" y1="1560.04" x2="574.31" y2="1560.04" stroke="#000" stroke-width="2.7"/>
<text x="548.08" y="1554.32" font-size="17.3" text-anchor="middle" fill="#000">&lt;0.0001</text>
<line x1="574.31" y1="1589.29" x2="624.41" y2="1589.29" stroke="#000" stroke-width="2.7"/>
<text x="603.56" y="1583.58" font-size="17.3" text-anchor="middle" fill="#000">&lt;0.0001</text>
<line x1="798.00" y1="1750.02" x2="798.00" y2="1744.98" stroke="#000" stroke-width="1.5"/>
<line x1="790.60" y1="1744.98" x2="805.40" y2="1744.98" stroke="#000" stroke-width="1.5"/>
<rect x="784.80" y="1750.02" width="26.40" height="18.18" fill="#0505b2" stroke="#000" stroke-width="1.5"/>
<line x1="839.35" y1="1764.48" x2="839.35" y2="1762.80" stroke="#000" stroke-width="1.5"/>
<line x1="831.95" y1="1762.80" x2="846.75" y2="1762.80" stroke="#000" stroke-width="1.5"/>
<rect x="826.15" y="1764.48" width="26.40" height="3.72" fill="#4d94eb" stroke="#000" stroke-width="1.5"/>
<line x1="880.70" y1="1645.11" x2="880.70" y2="1626.62" stroke="#000" stroke-width="1.5"/>
<line x1="873.30" y1="1626.62" x2="888.10" y2="1626.62" stroke="#000" stroke-width="1.5"/>
<rect x="867.50" y="1645.11" width="26.40" height="123.09" fill="#a9cdf6" stroke="#000" stroke-width="1.5"/>
<line x1="922.05" y1="1767.84" x2="922.05" y2="1765.49" stroke="#000" stroke-width="1.5"/>
<line x1="914.65" y1="1765.49" x2="929.45" y2="1765.49" stroke="#000" stroke-width="1.5"/>
<line x1="771.10" y1="1525.40" x2="771.10" y2="1769.40" stroke="#000" stroke-width="2.4"/>
<line x1="761.10" y1="1768.20" x2="951.10" y2="1768.20" stroke="#000" stroke-width="2.4"/>
<line x1="760.70" y1="1768.20" x2="771.10" y2="1768.20" stroke="#000" stroke-width="2.4"/>
<text x="758.70" y="1774.90" font-size="18.5" font-weight="bold" text-anchor="end" fill="#000" stroke="#000" stroke-width="0.45">0</text>
<line x1="760.70" y1="1687.67" x2="771.10" y2="1687.67" stroke="#000" stroke-width="2.4"/>
<text x="758.70" y="1694.37" font-size="18.5" font-weight="bold" text-anchor="end" fill="#000" stroke="#000" stroke-width="0.45">2000</text>
<line x1="760.70" y1="1607.13" x2="771.10" y2="1607.13" stroke="#000" stroke-width="2.4"/>
<text x="758.70" y="1613.83" font-size="18.5" font-weight="bold" text-anchor="end" fill="#000" stroke="#000" stroke-width="0.45">4000</text>
<line x1="760.70" y1="1526.60" x2="771.10" y2="1526.60" stroke="#000" stroke-width="2.4"/>
<text x="758.70" y="1533.30" font-size="18.5" font-weight="bold" text-anchor="end" fill="#000" stroke="#000" stroke-width="0.45">6000</text>
<line x1="798.00" y1="1768.20" x2="798.00" y2="1779.00" stroke="#000" stroke-width="2.4"/>
<text x="802.80" y="1795.50" font-size="18.0" font-weight="bold" text-anchor="end" fill="#000" transform="rotate(-45 802.80 1795.50)" stroke="#000" stroke-width="0.45">Epigraph 1</text>
<line x1="839.35" y1="1768.20" x2="839.35" y2="1779.00" stroke="#000" stroke-width="2.4"/>
<text x="844.15" y="1795.50" font-size="18.0" font-weight="bold" text-anchor="end" fill="#000" transform="rotate(-45 844.15 1795.50)" stroke="#000" stroke-width="0.45">Epigraph 2</text>
<line x1="880.70" y1="1768.20" x2="880.70" y2="1779.00" stroke="#000" stroke-width="2.4"/>
<text x="885.50" y="1795.50" font-size="18.0" font-weight="bold" text-anchor="end" fill="#000" transform="rotate(-45 885.50 1795.50)" stroke="#000" stroke-width="0.45">Epigraph 3</text>
<line x1="922.05" y1="1768.20" x2="922.05" y2="1779.00" stroke="#000" stroke-width="2.4"/>
<text x="926.85" y="1795.50" font-size="18.0" font-weight="bold" text-anchor="end" fill="#000" transform="rotate(-45 926.85 1795.50)" stroke="#000" stroke-width="0.45">PBS</text>
<text x="861.60" y="1489.60" font-size="23.6" font-weight="bold" text-anchor="middle" fill="#000" stroke="#000" stroke-width="0.45">Uruguay/2007</text>
<text x="705.80" y="1647.30" font-size="20.4" font-weight="bold" stroke="#000" stroke-width="0.45" text-anchor="middle" transform="rotate(-90 705.80 1647.30)">SFC/10<tspan font-size="14.2" dy="-8.0">6</tspan><tspan dy="8.0" dx="3.0" font-size="19.8"> splenocytes</tspan></text>
<path d="M798.0 1730.2L802.0 1734.2L798.0 1738.2L794.0 1734.2Z" fill="#fff" stroke="#000" stroke-width="1"/>
<path d="M787.9 1743.7L791.9 1747.7L787.9 1751.7L783.9 1747.7Z" fill="#fff" stroke="#000" stroke-width="1"/>
<path d="M798.0 1748.0L802.0 1752.0L798.0 1756.0L794.0 1752.0Z" fill="#fff" stroke="#000" stroke-width="1"/>
<path d="M808.1 1746.0L812.1 1750.0L808.1 1754.0L804.1 1750.0Z" fill="#fff" stroke="#000" stroke-width="1"/>
<path d="M798.0 1761.5L802.0 1765.5L798.0 1769.5L794.0 1765.5Z" fill="#fff" stroke="#000" stroke-width="1"/>
<circle cx="831.7" cy="1761.1" r="3.5" fill="#fff" stroke="#000" stroke-width="1"/>
<circle cx="836.0" cy="1758.8" r="3.5" fill="#fff" stroke="#000" stroke-width="1"/>
<circle cx="840.7" cy="1760.4" r="3.5" fill="#fff" stroke="#000" stroke-width="1"/>
<circle cx="845.8" cy="1761.1" r="3.5" fill="#fff" stroke="#000" stroke-width="1"/>
<circle cx="850.2" cy="1763.5" r="3.5" fill="#fff" stroke="#000" stroke-width="1"/>
<path d="M877.2 1593.4L884.4 1593.4L880.8 1600.2Z" fill="#fff" stroke="#000" stroke-width="1"/>
<path d="M877.2 1618.6L884.4 1618.6L880.8 1625.4Z" fill="#fff" stroke="#000" stroke-width="1"/>
<path d="M877.2 1627.0L884.4 1627.0L880.8 1633.8Z" fill="#fff" stroke="#000" stroke-width="1"/>
<path d="M867.1 1685.2L874.3 1685.2L870.7 1692.0Z" fill="#fff" stroke="#000" stroke-width="1"/>
<path d="M887.6 1682.5L894.8 1682.5L891.2 1689.3Z" fill="#fff" stroke="#000" stroke-width="1"/>
<rect x="919.1" y="1755.1" width="6.6" height="6.6" fill="#fff" stroke="#000" stroke-width="1"/>
<rect x="909.1" y="1764.5" width="6.6" height="6.6" fill="#fff" stroke="#000" stroke-width="1"/>
<rect x="922.5" y="1764.5" width="6.6" height="6.6" fill="#fff" stroke="#000" stroke-width="1"/>
<rect x="929.2" y="1763.5" width="6.6" height="6.6" fill="#fff" stroke="#000" stroke-width="1"/>
<rect x="914.1" y="1765.6" width="6.6" height="6.6" fill="#fff" stroke="#000" stroke-width="1"/>
<line x1="782.23" y1="1526.75" x2="881.09" y2="1526.75" stroke="#000" stroke-width="2.7"/>
<text x="827.63" y="1520.03" font-size="17.3" text-anchor="middle" fill="#000">&lt;0.0001</text>
<line x1="832.33" y1="1555.33" x2="881.09" y2="1555.33" stroke="#000" stroke-width="2.7"/>
<text x="854.53" y="1549.28" font-size="17.3" text-anchor="middle" fill="#000">&lt;0.0001</text>
<line x1="881.09" y1="1584.59" x2="930.85" y2="1584.59" stroke="#000" stroke-width="2.7"/>
<text x="909.00" y="1578.53" font-size="17.3" text-anchor="middle" fill="#000">&lt;0.0001</text>
<line x1="1104.00" y1="1762.80" x2="1104.00" y2="1761.12" stroke="#000" stroke-width="1.5"/>
<line x1="1096.60" y1="1761.12" x2="1111.40" y2="1761.12" stroke="#000" stroke-width="1.5"/>
<rect x="1090.80" y="1762.80" width="26.40" height="5.40" fill="#0505b2" stroke="#000" stroke-width="1.5"/>
<line x1="1145.35" y1="1766.16" x2="1145.35" y2="1764.82" stroke="#000" stroke-width="1.5"/>
<line x1="1137.95" y1="1764.82" x2="1152.75" y2="1764.82" stroke="#000" stroke-width="1.5"/>
<rect x="1132.15" y="1766.16" width="26.40" height="2.04" fill="#4d94eb" stroke="#000" stroke-width="1.5"/>
<line x1="1186.70" y1="1618.21" x2="1186.70" y2="1597.36" stroke="#000" stroke-width="1.5"/>
<line x1="1179.30" y1="1597.36" x2="1194.10" y2="1597.36" stroke="#000" stroke-width="1.5"/>
<rect x="1173.50" y="1618.21" width="26.40" height="149.99" fill="#a9cdf6" stroke="#000" stroke-width="1.5"/>
<line x1="1228.05" y1="1767.84" x2="1228.05" y2="1766.83" stroke="#000" stroke-width="1.5"/>
<line x1="1220.65" y1="1766.83" x2="1235.45" y2="1766.83" stroke="#000" stroke-width="1.5"/>
<line x1="1077.10" y1="1525.40" x2="1077.10" y2="1769.40" stroke="#000" stroke-width="2.4"/>
<line x1="1067.10" y1="1768.20" x2="1257.10" y2="1768.20" stroke="#000" stroke-width="2.4"/>
<line x1="1066.70" y1="1768.20" x2="1077.10" y2="1768.20" stroke="#000" stroke-width="2.4"/>
<text x="1064.70" y="1774.90" font-size="18.5" font-weight="bold" text-anchor="end" fill="#000" stroke="#000" stroke-width="0.45">0</text>
<line x1="1066.70" y1="1687.67" x2="1077.10" y2="1687.67" stroke="#000" stroke-width="2.4"/>
<text x="1064.70" y="1694.37" font-size="18.5" font-weight="bold" text-anchor="end" fill="#000" stroke="#000" stroke-width="0.45">2000</text>
<line x1="1066.70" y1="1607.13" x2="1077.10" y2="1607.13" stroke="#000" stroke-width="2.4"/>
<text x="1064.70" y="1613.83" font-size="18.5" font-weight="bold" text-anchor="end" fill="#000" stroke="#000" stroke-width="0.45">4000</text>
<line x1="1066.70" y1="1526.60" x2="1077.10" y2="1526.60" stroke="#000" stroke-width="2.4"/>
<text x="1064.70" y="1533.30" font-size="18.5" font-weight="bold" text-anchor="end" fill="#000" stroke="#000" stroke-width="0.45">6000</text>
<line x1="1104.00" y1="1768.20" x2="1104.00" y2="1779.00" stroke="#000" stroke-width="2.4"/>
<text x="1108.80" y="1795.50" font-size="18.0" font-weight="bold" text-anchor="end" fill="#000" transform="rotate(-45 1108.80 1795.50)" stroke="#000" stroke-width="0.45">Epigraph 1</text>
<line x1="1145.35" y1="1768.20" x2="1145.35" y2="1779.00" stroke="#000" stroke-width="2.4"/>
<text x="1150.15" y="1795.50" font-size="18.0" font-weight="bold" text-anchor="end" fill="#000" transform="rotate(-45 1150.15 1795.50)" stroke="#000" stroke-width="0.45">Epigraph 2</text>
<line x1="1186.70" y1="1768.20" x2="1186.70" y2="1779.00" stroke="#000" stroke-width="2.4"/>
<text x="1191.50" y="1795.50" font-size="18.0" font-weight="bold" text-anchor="end" fill="#000" transform="rotate(-45 1191.50 1795.50)" stroke="#000" stroke-width="0.45">Epigraph 3</text>
<line x1="1228.05" y1="1768.20" x2="1228.05" y2="1779.00" stroke="#000" stroke-width="2.4"/>
<text x="1232.85" y="1795.50" font-size="18.0" font-weight="bold" text-anchor="end" fill="#000" transform="rotate(-45 1232.85 1795.50)" stroke="#000" stroke-width="0.45">PBS</text>
<text x="1167.60" y="1489.60" font-size="23.6" font-weight="bold" text-anchor="middle" fill="#000" stroke="#000" stroke-width="0.45">Mississippi/1985</text>
<text x="1011.80" y="1647.30" font-size="20.4" font-weight="bold" stroke="#000" stroke-width="0.45" text-anchor="middle" transform="rotate(-90 1011.80 1647.30)">SFC/10<tspan font-size="14.2" dy="-8.0">6</tspan><tspan dy="8.0" dx="3.0" font-size="19.8"> splenocytes</tspan></text>
<path d="M1099.7 1753.8L1103.7 1757.8L1099.7 1761.8L1095.7 1757.8Z" fill="#fff" stroke="#000" stroke-width="1"/>
<path d="M1109.7 1754.8L1113.7 1758.8L1109.7 1762.8L1105.7 1758.8Z" fill="#fff" stroke="#000" stroke-width="1"/>
<path d="M1094.6 1759.8L1098.6 1763.8L1094.6 1767.8L1090.6 1763.8Z" fill="#fff" stroke="#000" stroke-width="1"/>
<path d="M1104.7 1758.8L1108.7 1762.8L1104.7 1766.8L1100.7 1762.8Z" fill="#fff" stroke="#000" stroke-width="1"/>
<path d="M1114.8 1760.5L1118.8 1764.5L1114.8 1768.5L1110.8 1764.5Z" fill="#fff" stroke="#000" stroke-width="1"/>
<circle cx="1136.0" cy="1765.5" r="3.5" fill="#fff" stroke="#000" stroke-width="1"/>
<circle cx="1141.0" cy="1762.8" r="3.5" fill="#fff" stroke="#000" stroke-width="1"/>
<circle cx="1146.1" cy="1764.5" r="3.5" fill="#fff" stroke="#000" stroke-width="1"/>
<circle cx="1151.1" cy="1762.8" r="3.5" fill="#fff" stroke="#000" stroke-width="1"/>
<circle cx="1156.1" cy="1766.2" r="3.5" fill="#fff" stroke="#000" stroke-width="1"/>
<path d="M1183.8 1564.8L1191.0 1564.8L1187.4 1571.6Z" fill="#fff" stroke="#000" stroke-width="1"/>
<path d="M1183.8 1574.9L1191.0 1574.9L1187.4 1581.7Z" fill="#fff" stroke="#000" stroke-width="1"/>
<path d="M1183.8 1609.2L1191.0 1609.2L1187.4 1616.0Z" fill="#fff" stroke="#000" stroke-width="1"/>
<path d="M1173.7 1665.6L1180.9 1665.6L1177.3 1672.4Z" fill="#fff" stroke="#000" stroke-width="1"/>
<path d="M1193.9 1658.3L1201.1 1658.3L1197.5 1665.1Z" fill="#fff" stroke="#000" stroke-width="1"/>
<rect x="1215.0" y="1763.9" width="6.6" height="6.6" fill="#fff" stroke="#000" stroke-width="1"/>
<rect x="1220.1" y="1762.9" width="6.6" height="6.6" fill="#fff" stroke="#000" stroke-width="1"/>
<rect x="1225.1" y="1763.5" width="6.6" height="6.6" fill="#fff" stroke="#000" stroke-width="1"/>
<rect x="1231.2" y="1762.9" width="6.6" height="6.6" fill="#fff" stroke="#000" stroke-width="1"/>
<rect x="1235.9" y="1765.2" width="6.6" height="6.6" fill="#fff" stroke="#000" stroke-width="1"/>
<line x1="1088.89" y1="1510.61" x2="1187.41" y2="1510.61" stroke="#000" stroke-width="2.7"/>
<text x="1134.28" y="1506.58" font-size="17.3" text-anchor="middle" fill="#000">&lt;0.0001</text>
<line x1="1138.32" y1="1534.49" x2="1187.41" y2="1534.49" stroke="#000" stroke-width="2.7"/>
<text x="1161.18" y="1529.11" font-size="17.3" text-anchor="middle" fill="#000">&lt;0.0001</text>
<line x1="1187.41" y1="1558.70" x2="1236.84" y2="1558.70" stroke="#000" stroke-width="2.7"/>
<text x="1215.99" y="1553.65" font-size="17.3" text-anchor="middle" fill="#000">&lt;0.0001</text>
<line x1="1419.50" y1="1737.58" x2="1419.50" y2="1733.21" stroke="#000" stroke-width="1.5"/>
<line x1="1412.10" y1="1733.21" x2="1426.90" y2="1733.21" stroke="#000" stroke-width="1.5"/>
<rect x="1406.30" y="1737.58" width="26.40" height="30.62" fill="#0505b2" stroke="#000" stroke-width="1.5"/>
<line x1="1460.85" y1="1762.80" x2="1460.85" y2="1760.11" stroke="#000" stroke-width="1.5"/>
<line x1="1453.45" y1="1760.11" x2="1468.25" y2="1760.11" stroke="#000" stroke-width="1.5"/>
<rect x="1447.65" y="1762.80" width="26.40" height="5.40" fill="#4d94eb" stroke="#000" stroke-width="1.5"/>
<line x1="1502.20" y1="1622.58" x2="1502.20" y2="1602.41" stroke="#000" stroke-width="1.5"/>
<line x1="1494.80" y1="1602.41" x2="1509.60" y2="1602.41" stroke="#000" stroke-width="1.5"/>
<rect x="1489.00" y="1622.58" width="26.40" height="145.62" fill="#a9cdf6" stroke="#000" stroke-width="1.5"/>
<line x1="1543.55" y1="1767.84" x2="1543.55" y2="1764.48" stroke="#000" stroke-width="1.5"/>
<line x1="1536.15" y1="1764.48" x2="1550.95" y2="1764.48" stroke="#000" stroke-width="1.5"/>
<line x1="1392.60" y1="1525.40" x2="1392.60" y2="1769.40" stroke="#000" stroke-width="2.4"/>
<line x1="1382.60" y1="1768.20" x2="1572.60" y2="1768.20" stroke="#000" stroke-width="2.4"/>
<line x1="1382.20" y1="1768.20" x2="1392.60" y2="1768.20" stroke="#000" stroke-width="2.4"/>
<text x="1380.20" y="1774.90" font-size="18.5" font-weight="bold" text-anchor="end" fill="#000" stroke="#000" stroke-width="0.45">0</text>
<line x1="1382.20" y1="1687.67" x2="1392.60" y2="1687.67" stroke="#000" stroke-width="2.4"/>
<text x="1380.20" y="1694.37" font-size="18.5" font-weight="bold" text-anchor="end" fill="#000" stroke="#000" stroke-width="0.45">2000</text>
<line x1="1382.20" y1="1607.13" x2="1392.60" y2="1607.13" stroke="#000" stroke-width="2.4"/>
<text x="1380.20" y="1613.83" font-size="18.5" font-weight="bold" text-anchor="end" fill="#000" stroke="#000" stroke-width="0.45">4000</text>
<line x1="1382.20" y1="1526.60" x2="1392.60" y2="1526.60" stroke="#000" stroke-width="2.4"/>
<text x="1380.20" y="1533.30" font-size="18.5" font-weight="bold" text-anchor="end" fill="#000" stroke="#000" stroke-width="0.45">6000</text>
<line x1="1419.50" y1="1768.20" x2="1419.50" y2="1779.00" stroke="#000" stroke-width="2.4"/>
<text x="1424.30" y="1795.50" font-size="18.0" font-weight="bold" text-anchor="end" fill="#000" transform="rotate(-45 1424.30 1795.50)" stroke="#000" stroke-width="0.45">Epigraph 1</text>
<line x1="1460.85" y1="1768.20" x2="1460.85" y2="1779.00" stroke="#000" stroke-width="2.4"/>
<text x="1465.65" y="1795.50" font-size="18.0" font-weight="bold" text-anchor="end" fill="#000" transform="rotate(-45 1465.65 1795.50)" stroke="#000" stroke-width="0.45">Epigraph 2</text>
<line x1="1502.20" y1="1768.20" x2="1502.20" y2="1779.00" stroke="#000" stroke-width="2.4"/>
<text x="1507.00" y="1795.50" font-size="18.0" font-weight="bold" text-anchor="end" fill="#000" transform="rotate(-45 1507.00 1795.50)" stroke="#000" stroke-width="0.45">Epigraph 3</text>
<line x1="1543.55" y1="1768.20" x2="1543.55" y2="1779.00" stroke="#000" stroke-width="2.4"/>
<text x="1548.35" y="1795.50" font-size="18.0" font-weight="bold" text-anchor="end" fill="#000" transform="rotate(-45 1548.35 1795.50)" stroke="#000" stroke-width="0.45">PBS</text>
<text x="1483.10" y="1489.60" font-size="23.6" font-weight="bold" text-anchor="middle" fill="#000" stroke="#000" stroke-width="0.45">Aichi/1968</text>
<text x="1327.30" y="1647.30" font-size="20.4" font-weight="bold" stroke="#000" stroke-width="0.45" text-anchor="middle" transform="rotate(-90 1327.30 1647.30)">SFC/10<tspan font-size="14.2" dy="-8.0">6</tspan><tspan dy="8.0" dx="3.0" font-size="19.8"> splenocytes</tspan></text>
<path d="M1419.5 1717.8L1423.5 1721.8L1419.5 1725.8L1415.5 1721.8Z" fill="#fff" stroke="#000" stroke-width="1"/>
<path d="M1429.6 1731.2L1433.6 1735.2L1429.6 1739.2L1425.6 1735.2Z" fill="#fff" stroke="#000" stroke-width="1"/>
<path d="M1409.5 1740.3L1413.5 1744.3L1409.5 1748.3L1405.5 1744.3Z" fill="#fff" stroke="#000" stroke-width="1"/>
<path d="M1419.5 1738.0L1423.5 1742.0L1419.5 1746.0L1415.5 1742.0Z" fill="#fff" stroke="#000" stroke-width="1"/>
<path d="M1429.6 1739.6L1433.6 1743.6L1429.6 1747.6L1425.6 1743.6Z" fill="#fff" stroke="#000" stroke-width="1"/>
<circle cx="1450.8" cy="1761.1" r="3.5" fill="#fff" stroke="#000" stroke-width="1"/>
<circle cx="1455.5" cy="1757.1" r="3.5" fill="#fff" stroke="#000" stroke-width="1"/>
<circle cx="1460.6" cy="1759.4" r="3.5" fill="#fff" stroke="#000" stroke-width="1"/>
<circle cx="1465.9" cy="1758.4" r="3.5" fill="#fff" stroke="#000" stroke-width="1"/>
<circle cx="1471.0" cy="1762.8" r="3.5" fill="#fff" stroke="#000" stroke-width="1"/>
<path d="M1498.3 1571.5L1505.5 1571.5L1501.9 1578.3Z" fill="#fff" stroke="#000" stroke-width="1"/>
<path d="M1498.3 1580.9L1505.5 1580.9L1501.9 1587.7Z" fill="#fff" stroke="#000" stroke-width="1"/>
<path d="M1498.3 1612.5L1505.5 1612.5L1501.9 1619.3Z" fill="#fff" stroke="#000" stroke-width="1"/>
<path d="M1488.2 1666.3L1495.4 1666.3L1491.8 1673.1Z" fill="#fff" stroke="#000" stroke-width="1"/>
<path d="M1508.4 1659.9L1515.6 1659.9L1512.0 1666.7Z" fill="#fff" stroke="#000" stroke-width="1"/>
<rect x="1534.9" y="1757.8" width="6.6" height="6.6" fill="#fff" stroke="#000" stroke-width="1"/>
<rect x="1529.9" y="1763.9" width="6.6" height="6.6" fill="#fff" stroke="#000" stroke-width="1"/>
<rect x="1540.0" y="1762.2" width="6.6" height="6.6" fill="#fff" stroke="#000" stroke-width="1"/>
<rect x="1545.0" y="1760.5" width="6.6" height="6.6" fill="#fff" stroke="#000" stroke-width="1"/>
<rect x="1550.1" y="1764.5" width="6.6" height="6.6" fill="#fff" stroke="#000" stroke-width="1"/>
<line x1="1403.74" y1="1520.36" x2="1501.92" y2="1520.36" stroke="#000" stroke-width="2.7"/>
<text x="1449.13" y="1516.66" font-size="17.3" text-anchor="middle" fill="#000">&lt;0.0001</text>
<line x1="1453.17" y1="1544.24" x2="1501.92" y2="1544.24" stroke="#000" stroke-width="2.7"/>
<text x="1476.03" y="1538.52" font-size="17.3" text-anchor="middle" fill="#000">&lt;0.0001</text>
<line x1="1501.92" y1="1567.44" x2="1551.69" y2="1567.44" stroke="#000" stroke-width="2.7"/>
<text x="1530.50" y="1562.06" font-size="17.3" text-anchor="middle" fill="#000">&lt;0.0001</text>
<line x1="1725.50" y1="1733.54" x2="1725.50" y2="1727.49" stroke="#000" stroke-width="1.5"/>
<line x1="1718.10" y1="1727.49" x2="1732.90" y2="1727.49" stroke="#000" stroke-width="1.5"/>
<rect x="1712.30" y="1733.54" width="26.40" height="34.66" fill="#0505b2" stroke="#000" stroke-width="1.5"/>
<line x1="1766.85" y1="1762.80" x2="1766.85" y2="1760.11" stroke="#000" stroke-width="1.5"/>
<line x1="1759.45" y1="1760.11" x2="1774.25" y2="1760.11" stroke="#000" stroke-width="1.5"/>
<rect x="1753.65" y="1762.80" width="26.40" height="5.40" fill="#4d94eb" stroke="#000" stroke-width="1.5"/>
<line x1="1808.20" y1="1625.61" x2="1808.20" y2="1607.11" stroke="#000" stroke-width="1.5"/>
<line x1="1800.80" y1="1607.11" x2="1815.60" y2="1607.11" stroke="#000" stroke-width="1.5"/>
<rect x="1795.00" y="1625.61" width="26.40" height="142.59" fill="#a9cdf6" stroke="#000" stroke-width="1.5"/>
<line x1="1849.55" y1="1767.84" x2="1849.55" y2="1764.48" stroke="#000" stroke-width="1.5"/>
<line x1="1842.15" y1="1764.48" x2="1856.95" y2="1764.48" stroke="#000" stroke-width="1.5"/>
<line x1="1698.60" y1="1525.40" x2="1698.60" y2="1769.40" stroke="#000" stroke-width="2.4"/>
<line x1="1688.60" y1="1768.20" x2="1878.60" y2="1768.20" stroke="#000" stroke-width="2.4"/>
<line x1="1688.20" y1="1768.20" x2="1698.60" y2="1768.20" stroke="#000" stroke-width="2.4"/>
<text x="1686.20" y="1774.90" font-size="18.5" font-weight="bold" text-anchor="end" fill="#000" stroke="#000" stroke-width="0.45">0</text>
<line x1="1688.20" y1="1687.67" x2="1698.60" y2="1687.67" stroke="#000" stroke-width="2.4"/>
<text x="1686.20" y="1694.37" font-size="18.5" font-weight="bold" text-anchor="end" fill="#000" stroke="#000" stroke-width="0.45">2000</text>
<line x1="1688.20" y1="1607.13" x2="1698.60" y2="1607.13" stroke="#000" stroke-width="2.4"/>
<text x="1686.20" y="1613.83" font-size="18.5" font-weight="bold" text-anchor="end" fill="#000" stroke="#000" stroke-width="0.45">4000</text>
<line x1="1688.20" y1="1526.60" x2="1698.60" y2="1526.60" stroke="#000" stroke-width="2.4"/>
<text x="1686.20" y="1533.30" font-size="18.5" font-weight="bold" text-anchor="end" fill="#000" stroke="#000" stroke-width="0.45">6000</text>
<line x1="1725.50" y1="1768.20" x2="1725.50" y2="1779.00" stroke="#000" stroke-width="2.4"/>
<text x="1730.30" y="1795.50" font-size="18.0" font-weight="bold" text-anchor="end" fill="#000" transform="rotate(-45 1730.30 1795.50)" stroke="#000" stroke-width="0.45">Epigraph 1</text>
<line x1="1766.85" y1="1768.20" x2="1766.85" y2="1779.00" stroke="#000" stroke-width="2.4"/>
<text x="1771.65" y="1795.50" font-size="18.0" font-weight="bold" text-anchor="end" fill="#000" transform="rotate(-45 1771.65 1795.50)" stroke="#000" stroke-width="0.45">Epigraph 2</text>
<line x1="1808.20" y1="1768.20" x2="1808.20" y2="1779.00" stroke="#000" stroke-width="2.4"/>
<text x="1813.00" y="1795.50" font-size="18.0" font-weight="bold" text-anchor="end" fill="#000" transform="rotate(-45 1813.00 1795.50)" stroke="#000" stroke-width="0.45">Epigraph 3</text>
<line x1="1849.55" y1="1768.20" x2="1849.55" y2="1779.00" stroke="#000" stroke-width="2.4"/>
<text x="1854.35" y="1795.50" font-size="18.0" font-weight="bold" text-anchor="end" fill="#000" transform="rotate(-45 1854.35 1795.50)" stroke="#000" stroke-width="0.45">PBS</text>
<text x="1789.10" y="1489.60" font-size="23.6" font-weight="bold" text-anchor="middle" fill="#000" stroke="#000" stroke-width="0.45">Texas/1977</text>
<text x="1633.30" y="1647.30" font-size="20.4" font-weight="bold" stroke="#000" stroke-width="0.45" text-anchor="middle" transform="rotate(-90 1633.30 1647.30)">SFC/10<tspan font-size="14.2" dy="-8.0">6</tspan><tspan dy="8.0" dx="3.0" font-size="19.8"> splenocytes</tspan></text>
<path d="M1725.5 1711.1L1729.5 1715.1L1725.5 1719.1L1721.5 1715.1Z" fill="#fff" stroke="#000" stroke-width="1"/>
<path d="M1725.5 1720.1L1729.5 1724.1L1725.5 1728.1L1721.5 1724.1Z" fill="#fff" stroke="#000" stroke-width="1"/>
<path d="M1715.4 1741.0L1719.4 1745.0L1715.4 1749.0L1711.4 1745.0Z" fill="#fff" stroke="#000" stroke-width="1"/>
<path d="M1725.5 1736.9L1729.5 1740.9L1725.5 1744.9L1721.5 1740.9Z" fill="#fff" stroke="#000" stroke-width="1"/>
<path d="M1735.6 1737.6L1739.6 1741.6L1735.6 1745.6L1731.6 1741.6Z" fill="#fff" stroke="#000" stroke-width="1"/>
<circle cx="1756.8" cy="1763.5" r="3.5" fill="#fff" stroke="#000" stroke-width="1"/>
<circle cx="1761.8" cy="1758.4" r="3.5" fill="#fff" stroke="#000" stroke-width="1"/>
<circle cx="1766.9" cy="1761.1" r="3.5" fill="#fff" stroke="#000" stroke-width="1"/>
<circle cx="1771.9" cy="1759.4" r="3.5" fill="#fff" stroke="#000" stroke-width="1"/>
<circle cx="1777.0" cy="1765.5" r="3.5" fill="#fff" stroke="#000" stroke-width="1"/>
<path d="M1794.9 1582.6L1802.1 1582.6L1798.5 1589.4Z" fill="#fff" stroke="#000" stroke-width="1"/>
<path d="M1815.1 1586.0L1822.3 1586.0L1818.7 1592.8Z" fill="#fff" stroke="#000" stroke-width="1"/>
<path d="M1805.0 1611.2L1812.2 1611.2L1808.6 1618.0Z" fill="#fff" stroke="#000" stroke-width="1"/>
<path d="M1794.9 1666.3L1802.1 1666.3L1798.5 1673.1Z" fill="#fff" stroke="#000" stroke-width="1"/>
<path d="M1815.1 1660.6L1822.3 1660.6L1818.7 1667.4Z" fill="#fff" stroke="#000" stroke-width="1"/>
<rect x="1836.6" y="1757.1" width="6.6" height="6.6" fill="#fff" stroke="#000" stroke-width="1"/>
<rect x="1836.6" y="1764.5" width="6.6" height="6.6" fill="#fff" stroke="#000" stroke-width="1"/>
<rect x="1843.3" y="1762.9" width="6.6" height="6.6" fill="#fff" stroke="#000" stroke-width="1"/>
<rect x="1849.3" y="1764.5" width="6.6" height="6.6" fill="#fff" stroke="#000" stroke-width="1"/>
<rect x="1856.7" y="1762.9" width="6.6" height="6.6" fill="#fff" stroke="#000" stroke-width="1"/>
<line x1="1710.40" y1="1525.41" x2="1808.58" y2="1525.41" stroke="#000" stroke-width="2.7"/>
<text x="1755.12" y="1520.70" font-size="17.3" text-anchor="middle" fill="#000">&lt;0.0001</text>
<line x1="1759.15" y1="1555.33" x2="1808.58" y2="1555.33" stroke="#000" stroke-width="2.7"/>
<text x="1782.02" y="1549.28" font-size="17.3" text-anchor="middle" fill="#000">&lt;0.0001</text>
<line x1="1808.58" y1="1576.85" x2="1857.67" y2="1576.85" stroke="#000" stroke-width="2.7"/>
<text x="1836.49" y="1571.81" font-size="17.3" text-anchor="middle" fill="#000">&lt;0.0001</text>
</g>
</svg>
</body></html>
